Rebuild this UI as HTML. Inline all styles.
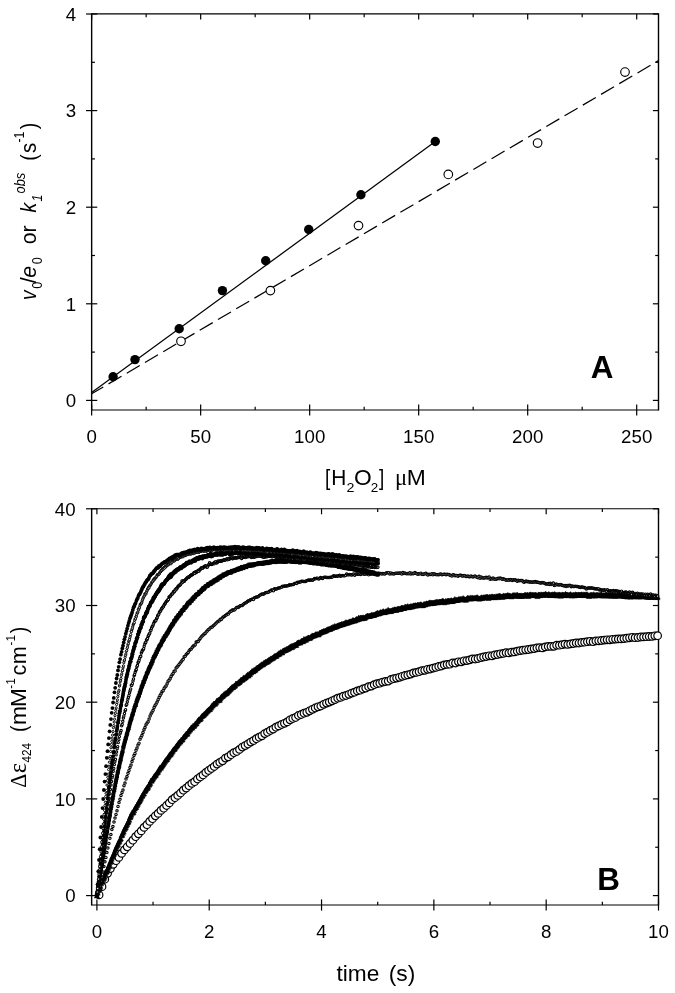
<!DOCTYPE html>
<html lang="en">
<head>
<meta charset="utf-8">
<title>Figure</title>
<style>
html,body{margin:0;padding:0;background:#fff;}
body{width:675px;height:993px;overflow:hidden;}
svg{display:block;}
</style>
</head>
<body>
<svg width="675" height="993" viewBox="0 0 675 993">
<rect x="0" y="0" width="675" height="993" fill="#fff"/>
<g stroke="#000" fill="none" stroke-linecap="butt">
<line x1="91.65" y1="13.35" x2="91.65" y2="410.55" stroke-width="1.4" />
<line x1="658.50" y1="13.35" x2="658.50" y2="410.55" stroke-width="1.4" />
<line x1="91.65" y1="13.90" x2="658.50" y2="13.90" stroke-width="1.15" />
<line x1="91.65" y1="410.00" x2="658.50" y2="410.00" stroke-width="1.15" />
<line x1="86.05" y1="400.40" x2="97.25" y2="400.40" stroke-width="1.2" />
<line x1="652.90" y1="400.40" x2="658.50" y2="400.40" stroke-width="1.2" />
<line x1="86.05" y1="303.80" x2="97.25" y2="303.80" stroke-width="1.2" />
<line x1="652.90" y1="303.80" x2="658.50" y2="303.80" stroke-width="1.2" />
<line x1="86.05" y1="207.20" x2="97.25" y2="207.20" stroke-width="1.2" />
<line x1="652.90" y1="207.20" x2="658.50" y2="207.20" stroke-width="1.2" />
<line x1="86.05" y1="110.60" x2="97.25" y2="110.60" stroke-width="1.2" />
<line x1="652.90" y1="110.60" x2="658.50" y2="110.60" stroke-width="1.2" />
<line x1="86.05" y1="14.00" x2="97.25" y2="14.00" stroke-width="1.2" />
<line x1="652.90" y1="14.00" x2="658.50" y2="14.00" stroke-width="1.2" />
<line x1="91.65" y1="352.10" x2="94.95" y2="352.10" stroke-width="1.2" />
<line x1="655.20" y1="352.10" x2="658.50" y2="352.10" stroke-width="1.2" />
<line x1="91.65" y1="255.50" x2="94.95" y2="255.50" stroke-width="1.2" />
<line x1="655.20" y1="255.50" x2="658.50" y2="255.50" stroke-width="1.2" />
<line x1="91.65" y1="158.90" x2="94.95" y2="158.90" stroke-width="1.2" />
<line x1="655.20" y1="158.90" x2="658.50" y2="158.90" stroke-width="1.2" />
<line x1="91.65" y1="62.30" x2="94.95" y2="62.30" stroke-width="1.2" />
<line x1="655.20" y1="62.30" x2="658.50" y2="62.30" stroke-width="1.2" />
<line x1="91.65" y1="404.40" x2="91.65" y2="415.60" stroke-width="1.2" />
<line x1="91.65" y1="13.90" x2="91.65" y2="19.50" stroke-width="1.2" />
<line x1="200.66" y1="404.40" x2="200.66" y2="415.60" stroke-width="1.2" />
<line x1="200.66" y1="13.90" x2="200.66" y2="19.50" stroke-width="1.2" />
<line x1="309.67" y1="404.40" x2="309.67" y2="415.60" stroke-width="1.2" />
<line x1="309.67" y1="13.90" x2="309.67" y2="19.50" stroke-width="1.2" />
<line x1="418.68" y1="404.40" x2="418.68" y2="415.60" stroke-width="1.2" />
<line x1="418.68" y1="13.90" x2="418.68" y2="19.50" stroke-width="1.2" />
<line x1="527.69" y1="404.40" x2="527.69" y2="415.60" stroke-width="1.2" />
<line x1="527.69" y1="13.90" x2="527.69" y2="19.50" stroke-width="1.2" />
<line x1="636.70" y1="404.40" x2="636.70" y2="415.60" stroke-width="1.2" />
<line x1="636.70" y1="13.90" x2="636.70" y2="19.50" stroke-width="1.2" />
<line x1="146.15" y1="406.70" x2="146.15" y2="410.00" stroke-width="1.2" />
<line x1="146.15" y1="13.90" x2="146.15" y2="17.20" stroke-width="1.2" />
<line x1="255.16" y1="406.70" x2="255.16" y2="410.00" stroke-width="1.2" />
<line x1="255.16" y1="13.90" x2="255.16" y2="17.20" stroke-width="1.2" />
<line x1="364.17" y1="406.70" x2="364.17" y2="410.00" stroke-width="1.2" />
<line x1="364.17" y1="13.90" x2="364.17" y2="17.20" stroke-width="1.2" />
<line x1="473.18" y1="406.70" x2="473.18" y2="410.00" stroke-width="1.2" />
<line x1="473.18" y1="13.90" x2="473.18" y2="17.20" stroke-width="1.2" />
<line x1="582.19" y1="406.70" x2="582.19" y2="410.00" stroke-width="1.2" />
<line x1="582.19" y1="13.90" x2="582.19" y2="17.20" stroke-width="1.2" />
<line x1="91.65" y1="508.15" x2="91.65" y2="905.55" stroke-width="1.4" />
<line x1="658.50" y1="508.15" x2="658.50" y2="905.55" stroke-width="1.4" />
<line x1="91.65" y1="508.70" x2="658.50" y2="508.70" stroke-width="1.15" />
<line x1="91.65" y1="905.00" x2="658.50" y2="905.00" stroke-width="1.15" />
<line x1="86.05" y1="895.60" x2="97.25" y2="895.60" stroke-width="1.2" />
<line x1="652.90" y1="895.60" x2="658.50" y2="895.60" stroke-width="1.2" />
<line x1="86.05" y1="798.90" x2="97.25" y2="798.90" stroke-width="1.2" />
<line x1="652.90" y1="798.90" x2="658.50" y2="798.90" stroke-width="1.2" />
<line x1="86.05" y1="702.20" x2="97.25" y2="702.20" stroke-width="1.2" />
<line x1="652.90" y1="702.20" x2="658.50" y2="702.20" stroke-width="1.2" />
<line x1="86.05" y1="605.50" x2="97.25" y2="605.50" stroke-width="1.2" />
<line x1="652.90" y1="605.50" x2="658.50" y2="605.50" stroke-width="1.2" />
<line x1="86.05" y1="508.80" x2="97.25" y2="508.80" stroke-width="1.2" />
<line x1="652.90" y1="508.80" x2="658.50" y2="508.80" stroke-width="1.2" />
<line x1="91.65" y1="847.25" x2="94.95" y2="847.25" stroke-width="1.2" />
<line x1="655.20" y1="847.25" x2="658.50" y2="847.25" stroke-width="1.2" />
<line x1="91.65" y1="750.55" x2="94.95" y2="750.55" stroke-width="1.2" />
<line x1="655.20" y1="750.55" x2="658.50" y2="750.55" stroke-width="1.2" />
<line x1="91.65" y1="653.85" x2="94.95" y2="653.85" stroke-width="1.2" />
<line x1="655.20" y1="653.85" x2="658.50" y2="653.85" stroke-width="1.2" />
<line x1="91.65" y1="557.15" x2="94.95" y2="557.15" stroke-width="1.2" />
<line x1="655.20" y1="557.15" x2="658.50" y2="557.15" stroke-width="1.2" />
<line x1="96.90" y1="899.40" x2="96.90" y2="910.60" stroke-width="1.2" />
<line x1="96.90" y1="508.70" x2="96.90" y2="514.30" stroke-width="1.2" />
<line x1="209.22" y1="899.40" x2="209.22" y2="910.60" stroke-width="1.2" />
<line x1="209.22" y1="508.70" x2="209.22" y2="514.30" stroke-width="1.2" />
<line x1="321.54" y1="899.40" x2="321.54" y2="910.60" stroke-width="1.2" />
<line x1="321.54" y1="508.70" x2="321.54" y2="514.30" stroke-width="1.2" />
<line x1="433.86" y1="899.40" x2="433.86" y2="910.60" stroke-width="1.2" />
<line x1="433.86" y1="508.70" x2="433.86" y2="514.30" stroke-width="1.2" />
<line x1="546.18" y1="899.40" x2="546.18" y2="910.60" stroke-width="1.2" />
<line x1="546.18" y1="508.70" x2="546.18" y2="514.30" stroke-width="1.2" />
<line x1="658.50" y1="899.40" x2="658.50" y2="910.60" stroke-width="1.2" />
<line x1="658.50" y1="508.70" x2="658.50" y2="514.30" stroke-width="1.2" />
<line x1="153.06" y1="901.70" x2="153.06" y2="905.00" stroke-width="1.2" />
<line x1="153.06" y1="508.70" x2="153.06" y2="512.00" stroke-width="1.2" />
<line x1="265.38" y1="901.70" x2="265.38" y2="905.00" stroke-width="1.2" />
<line x1="265.38" y1="508.70" x2="265.38" y2="512.00" stroke-width="1.2" />
<line x1="377.70" y1="901.70" x2="377.70" y2="905.00" stroke-width="1.2" />
<line x1="377.70" y1="508.70" x2="377.70" y2="512.00" stroke-width="1.2" />
<line x1="490.02" y1="901.70" x2="490.02" y2="905.00" stroke-width="1.2" />
<line x1="490.02" y1="508.70" x2="490.02" y2="512.00" stroke-width="1.2" />
<line x1="602.34" y1="901.70" x2="602.34" y2="905.00" stroke-width="1.2" />
<line x1="602.34" y1="508.70" x2="602.34" y2="512.00" stroke-width="1.2" />
</g>
<g stroke="#000" fill="none">
<line x1="91.65" y1="392.50" x2="435.30" y2="141.60" stroke-width="1.25" />
<line x1="91.65" y1="393.80" x2="658.50" y2="60.60" stroke-width="1.25" stroke-dasharray="15.07 6.09" stroke-dashoffset="1.6"/>
</g>
<g fill="#000" stroke="none">
<circle cx="113.1" cy="376.8" r="4.7"/>
<circle cx="135.0" cy="359.6" r="4.7"/>
<circle cx="179.2" cy="328.8" r="4.7"/>
<circle cx="222.4" cy="290.6" r="4.7"/>
<circle cx="265.7" cy="260.7" r="4.7"/>
<circle cx="308.7" cy="229.5" r="4.7"/>
<circle cx="360.9" cy="194.8" r="4.7"/>
<circle cx="435.3" cy="141.5" r="4.7"/>
</g>
<g fill="#fff" stroke="#000" stroke-width="1.15">
<circle cx="181.0" cy="341.3" r="4.3"/>
<circle cx="270.4" cy="290.6" r="4.3"/>
<circle cx="358.5" cy="225.6" r="4.3"/>
<circle cx="448.3" cy="174.4" r="4.3"/>
<circle cx="537.6" cy="143.0" r="4.3"/>
<circle cx="625.0" cy="72.1" r="4.3"/>
</g>
<defs>
<marker id="mL" markerWidth="10" markerHeight="10" refX="5" refY="5" markerUnits="userSpaceOnUse" overflow="visible"><circle cx="5" cy="5" r="3.8" fill="#fff" stroke="#000" stroke-width="1.2"/></marker>
<marker id="mO2" markerWidth="10" markerHeight="10" refX="5" refY="5" markerUnits="userSpaceOnUse" overflow="visible"><circle cx="5" cy="5" r="1.1" fill="#fff" stroke="#000" stroke-width="1.0"/></marker>
<marker id="mO4" markerWidth="10" markerHeight="10" refX="5" refY="5" markerUnits="userSpaceOnUse" overflow="visible"><circle cx="5" cy="5" r="1.15" fill="#fff" stroke="#000" stroke-width="1.1"/></marker>
<marker id="mO6" markerWidth="10" markerHeight="10" refX="5" refY="5" markerUnits="userSpaceOnUse" overflow="visible"><circle cx="5" cy="5" r="1.2" fill="#fff" stroke="#000" stroke-width="1.15"/></marker>
<marker id="mF" markerWidth="10" markerHeight="10" refX="5" refY="5" markerUnits="userSpaceOnUse" overflow="visible"><circle cx="5" cy="5" r="1.9" fill="#000"/></marker>
<marker id="mF3" markerWidth="10" markerHeight="10" refX="5" refY="5" markerUnits="userSpaceOnUse" overflow="visible"><circle cx="5" cy="5" r="1.9" fill="#000"/></marker>
<marker id="mT" markerWidth="10" markerHeight="10" refX="5" refY="5" markerUnits="userSpaceOnUse" overflow="visible"><path d="M5 2.3 L7.6 7.3 L2.4 7.3 Z" fill="#000" stroke="#000" stroke-width="0.5" stroke-linejoin="round"/></marker>
<marker id="mS" markerWidth="10" markerHeight="10" refX="5" refY="5" markerUnits="userSpaceOnUse" overflow="visible"><rect x="3.1" y="3.1" width="3.8" height="3.8" fill="#000"/></marker>
</defs>
<polyline fill="none" stroke="none" points="99.1,894.9 102.0,886.7 104.8,879.2 107.6,873.3 110.4,868.6 113.2,864.3 116.0,860.7 118.8,857.4 121.6,853.4 124.4,849.9 127.2,846.8 130.0,843.5 132.8,840.2 135.6,836.7 138.4,833.8 141.2,830.9 144.0,827.4 146.9,824.7 149.7,821.4 152.5,818.7 155.3,815.8 158.1,813.4 160.9,810.4 163.7,808.2 166.5,805.5 169.3,802.9 172.1,799.7 174.9,797.7 177.7,795.4 180.5,793.0 183.3,790.2 186.1,788.1 188.9,785.7 191.8,783.4 194.6,781.7 197.4,779.0 200.2,777.0 203.0,775.0 205.8,772.5 208.6,770.5 211.4,768.5 214.2,766.5 217.0,764.1 219.8,762.4 222.6,760.8 225.4,758.1 228.2,756.8 231.0,754.7 233.8,752.7 236.7,751.5 239.5,749.4 242.3,747.1 245.1,745.6 247.9,744.0 250.7,742.1 253.5,740.6 256.3,738.7 259.1,737.2 261.9,735.8 264.7,733.6 267.5,732.2 270.3,730.5 273.1,729.1 275.9,727.2 278.7,725.9 281.6,724.5 284.4,723.3 287.2,721.9 290.0,719.8 292.8,718.5 295.6,717.5 298.4,715.5 301.2,714.5 304.0,713.2 306.8,712.3 309.6,710.8 312.4,709.3 315.2,708.0 318.0,706.8 320.8,706.0 323.7,704.3 326.5,703.1 329.3,702.1 332.1,700.8 334.9,699.6 337.7,698.2 340.5,697.4 343.3,696.2 346.1,695.5 348.9,694.3 351.7,693.1 354.5,692.2 357.3,690.9 360.1,690.2 362.9,689.0 365.7,688.1 368.6,686.7 371.4,686.1 374.2,684.7 377.0,683.7 379.8,683.2 382.6,682.1 385.4,681.5 388.2,681.1 391.0,679.5 393.8,678.7 396.6,678.1 399.4,677.3 402.2,676.3 405.0,675.5 407.8,674.9 410.6,674.1 413.5,672.9 416.3,672.4 419.1,671.7 421.9,670.7 424.7,670.3 427.5,669.3 430.3,669.0 433.1,668.1 435.9,667.4 438.7,666.5 441.5,666.0 444.3,664.9 447.1,664.4 449.9,664.2 452.7,662.9 455.5,663.0 458.4,661.8 461.2,661.8 464.0,660.8 466.8,660.6 469.6,659.9 472.4,658.9 475.2,659.0 478.0,658.5 480.8,657.6 483.6,657.0 486.4,656.5 489.2,655.8 492.0,655.8 494.8,654.9 497.6,654.5 500.4,653.8 503.3,653.4 506.1,652.7 508.9,652.9 511.7,652.1 514.5,651.9 517.3,651.2 520.1,650.6 522.9,650.2 525.7,649.8 528.5,649.5 531.3,649.0 534.1,648.6 536.9,647.9 539.7,647.6 542.5,647.9 545.3,646.9 548.2,646.4 551.0,646.4 553.8,646.3 556.6,645.2 559.4,645.2 562.2,644.7 565.0,644.1 567.8,644.4 570.6,643.9 573.4,643.5 576.2,643.0 579.0,643.0 581.8,642.4 584.6,642.2 587.4,641.7 590.2,641.3 593.1,641.7 595.9,640.9 598.7,640.8 601.5,640.5 604.3,640.1 607.1,639.8 609.9,639.8 612.7,639.3 615.5,639.1 618.3,638.9 621.1,638.9 623.9,638.6 626.7,638.2 629.5,637.8 632.3,637.3 635.1,637.7 638.0,637.5 640.8,637.0 643.6,636.9 646.4,636.7 649.2,636.5 652.0,636.4 654.8,635.8 657.6,635.7" marker-start="url(#mL)" marker-mid="url(#mL)" marker-end="url(#mL)"/>
<polyline fill="none" stroke="none" points="96.9,895.6 97.6,892.9 98.3,890.5 99.0,888.9 99.7,887.8 100.4,886.1 101.1,883.5 101.8,881.9 102.5,881.5 103.2,879.2 103.9,878.1 104.6,876.9 105.3,874.1 106.0,872.3 106.7,871.6 107.4,869.8 108.1,868.0 108.8,866.4 109.5,864.3 110.2,862.2 110.9,861.1 111.6,859.0 112.3,856.9 113.0,856.2 113.7,854.2 114.4,852.7 115.1,850.4 115.8,848.8 116.5,847.0 117.3,845.4 118.0,844.2 118.7,842.2 119.4,841.1 120.1,839.5 120.8,838.6 121.5,835.5 122.2,835.0 122.9,833.0 123.6,831.5 124.3,829.4 125.0,828.3 125.7,827.4 126.4,825.6 127.1,824.2 127.8,822.6 128.5,821.8 129.2,819.9 129.9,817.5 130.6,816.8 131.3,814.9 132.0,812.9 132.7,812.8 133.4,812.3 134.1,810.5 134.8,808.6 135.5,807.4 136.2,807.1 136.9,805.4 137.6,804.1 138.3,802.8 139.0,801.6 139.7,800.7 140.4,799.3 141.1,798.0 141.8,796.2 142.5,795.7 143.2,794.0 143.9,793.6 144.6,791.4 145.3,790.8 146.0,789.7 146.7,788.0 147.4,788.2 148.1,787.0 148.8,785.0 149.5,784.4 150.2,783.1 150.9,780.7 151.6,780.9 152.3,779.7 153.0,778.7 153.7,777.1 154.4,776.4 155.1,775.4 155.8,775.0 156.5,773.5 157.3,772.4 158.0,772.0 158.7,770.1 159.4,769.1 160.1,767.5 160.8,768.0 161.5,766.7 162.2,765.7 162.9,764.6 163.6,763.4 164.3,762.5 165.0,761.3 165.7,760.3 166.4,759.5 167.1,759.2 167.8,757.8 168.5,756.6 169.2,755.4 169.9,754.5 170.6,754.5 171.3,753.1 172.0,752.0 172.7,750.9 173.4,749.6 174.1,749.2 174.8,748.7 175.5,747.3 176.2,746.4 176.9,745.6 177.6,744.8 178.3,743.2 179.0,742.9 179.7,741.8 180.4,741.7 181.1,740.1 181.8,739.8 182.5,739.4 183.2,737.7 183.9,736.7 184.6,736.3 185.3,735.3 186.0,734.1 186.7,733.9 187.4,733.8 188.1,731.9 188.8,731.1 189.5,729.9 190.2,729.7 190.9,728.2 191.6,727.5 192.3,727.8 193.0,726.0 193.7,726.1 194.4,725.5 195.1,724.1 195.8,723.5 196.5,723.4 197.3,721.6 198.0,720.7 198.7,719.6 199.4,719.4 200.1,719.3 200.8,718.3 201.5,716.7 202.2,716.0 202.9,715.5 203.6,715.1 204.3,714.1 205.0,713.6 205.7,712.9 206.4,711.9 207.1,711.3 207.8,710.7 208.5,709.8 209.2,709.4 209.9,709.3 210.6,708.0 211.3,707.1 212.0,705.6 212.7,705.8 213.4,704.1 214.1,703.7 214.8,704.0 215.5,703.3 216.2,702.2 216.9,700.8 217.6,700.8 218.3,700.0 219.0,699.9 219.7,700.0 220.4,698.4 221.1,697.3 221.8,696.5 222.5,696.3 223.2,695.6 223.9,694.5 224.6,694.5 225.3,693.3 226.0,693.7 226.7,693.0 227.4,692.4 228.1,691.1 228.8,690.9 229.5,690.0 230.2,689.3 230.9,688.7 231.6,687.6 232.3,687.0 233.0,687.4 233.7,686.4 234.4,685.9 235.1,685.7 235.8,683.9 236.5,683.7 237.3,683.6 238.0,683.1 238.7,682.2 239.4,682.2 240.1,681.3 240.8,680.1 241.5,679.7 242.2,679.9 242.9,679.2 243.6,677.6 244.3,678.5 245.0,677.6 245.7,677.4 246.4,676.1 247.1,675.6 247.8,674.6 248.5,675.8 249.2,674.0 249.9,674.3 250.6,672.7 251.3,672.6 252.0,671.2 252.7,671.3 253.4,671.4 254.1,669.9 254.8,670.4 255.5,669.6 256.2,668.5 256.9,668.2 257.6,667.7 258.3,667.4 259.0,666.7 259.7,666.1 260.4,665.8 261.1,665.0 261.8,664.4 262.5,664.5 263.2,664.4 263.9,662.9 264.6,663.1 265.3,662.3 266.0,661.7 266.7,662.1 267.4,661.0 268.1,661.4 268.8,660.0 269.5,660.0 270.2,659.3 270.9,658.6 271.6,658.8 272.3,658.0 273.0,657.9 273.7,657.2 274.4,656.2 275.1,656.3 275.8,655.9 276.5,655.9 277.3,654.6 278.0,654.6 278.7,653.4 279.4,654.0 280.1,652.8 280.8,652.1 281.5,652.5 282.2,652.6 282.9,651.0 283.6,650.8 284.3,650.5 285.0,649.9 285.7,650.2 286.4,649.3 287.1,648.9 287.8,649.1 288.5,648.1 289.2,648.3 289.9,647.3 290.6,646.8 291.3,646.1 292.0,647.4 292.7,646.0 293.4,645.9 294.1,645.4 294.8,645.1 295.5,644.7 296.2,645.2 296.9,643.5 297.6,642.9 298.3,642.8 299.0,642.3 299.7,642.8 300.4,642.5 301.1,641.4 301.8,640.8 302.5,640.9 303.2,641.4 303.9,639.1 304.6,640.3 305.3,639.2 306.0,639.9 306.7,638.6 307.4,638.6 308.1,637.7 308.8,637.6 309.5,638.3 310.2,637.8 310.9,636.9 311.6,636.4 312.3,635.6 313.0,635.9 313.7,635.8 314.4,635.4 315.1,635.1 315.8,634.3 316.5,634.5 317.3,634.2 318.0,634.5 318.7,634.5 319.4,633.2 320.1,632.7 320.8,632.7 321.5,632.1 322.2,631.8 322.9,631.8 323.6,631.1 324.3,631.5 325.0,630.9 325.7,630.8 326.4,630.3 327.1,629.8 327.8,629.4 328.5,629.4 329.2,629.0 329.9,629.1 330.6,628.7 331.3,627.8 332.0,628.2 332.7,627.3 333.4,627.3 334.1,627.2 334.8,626.1 335.5,626.9 336.2,626.6 336.9,626.2 337.6,625.8 338.3,625.6 339.0,625.1 339.7,625.1 340.4,624.8 341.1,624.8 341.8,624.0 342.5,624.4 343.2,624.1 343.9,623.7 344.6,623.3 345.3,623.5 346.0,622.3 346.7,623.0 347.4,622.7 348.1,622.5 348.8,622.3 349.5,621.6 350.2,621.5 350.9,621.7 351.6,621.4 352.3,621.0 353.0,620.0 353.7,620.7 354.4,620.8 355.1,620.5 355.8,619.9 356.5,618.9 357.3,619.8 358.0,619.1 358.7,617.8 359.4,618.9 360.1,617.9 360.8,617.7 361.5,617.8 362.2,618.5 362.9,617.5 363.6,617.6 364.3,618.1 365.0,617.8 365.7,616.9 366.4,616.6 367.1,615.9 367.8,616.0 368.5,616.3 369.2,616.1 369.9,615.8 370.6,616.0 371.3,615.0 372.0,615.1 372.7,615.3 373.4,615.0 374.1,615.1 374.8,614.6 375.5,614.1 376.2,614.2 376.9,613.4 377.6,612.9 378.3,613.8 379.0,613.3 379.7,613.3 380.4,612.2 381.1,612.6 381.8,612.4 382.5,612.1 383.2,611.3 383.9,612.0 384.6,612.4 385.3,612.0 386.0,611.3 386.7,611.4 387.4,611.6 388.1,609.9 388.8,610.9 389.5,611.0 390.2,611.0 390.9,611.3 391.6,610.8 392.3,610.3 393.0,610.2 393.7,610.2 394.4,609.5 395.1,609.5 395.8,609.8 396.5,610.1 397.2,609.0 398.0,609.0 398.7,608.9 399.4,609.3 400.1,608.5 400.8,609.1 401.5,607.8 402.2,608.0 402.9,607.9 403.6,608.2 404.3,608.2 405.0,606.9 405.7,607.0 406.4,607.4 407.1,606.9 407.8,606.3 408.5,607.4 409.2,607.0 409.9,606.9 410.6,606.3 411.3,606.8 412.0,606.1 412.7,606.6 413.4,605.6 414.1,605.5 414.8,605.8 415.5,605.3 416.2,605.8 416.9,605.5 417.6,604.9 418.3,605.2 419.0,604.9 419.7,605.3 420.4,604.5 421.1,604.5 421.8,605.1 422.5,605.5 423.2,605.2 423.9,604.3 424.6,604.2 425.3,604.7 426.0,603.8 426.7,603.4 427.4,603.7 428.1,603.8 428.8,603.1 429.5,602.6 430.2,602.6 430.9,603.5 431.6,602.7 432.3,602.9 433.0,603.0 433.7,603.0 434.4,602.5 435.1,602.8 435.8,602.1 436.5,602.2 437.2,601.8 438.0,602.7 438.7,602.1 439.4,601.7 440.1,601.7 440.8,601.7 441.5,602.0 442.2,600.9 442.9,601.1 443.6,601.3 444.3,602.5 445.0,601.7 445.7,601.1 446.4,601.4 447.1,601.9 447.8,600.8 448.5,600.7 449.2,601.3 449.9,600.9 450.6,600.9 451.3,600.3 452.0,601.3 452.7,601.1 453.4,600.5 454.1,600.5 454.8,599.2 455.5,600.3 456.2,599.9 456.9,600.1 457.6,600.1 458.3,599.6 459.0,598.9 459.7,599.8 460.4,599.2 461.1,599.3 461.8,599.1 462.5,599.2 463.2,598.2 463.9,599.7 464.6,599.2 465.3,599.6 466.0,599.9 466.7,598.9 467.4,598.0 468.1,598.4 468.8,598.2 469.5,598.4 470.2,598.6 470.9,597.6 471.6,598.6 472.3,597.7 473.0,598.5 473.7,598.3 474.4,598.1 475.1,598.2 475.8,597.9 476.5,597.8 477.2,597.3 478.0,597.9 478.7,598.7 479.4,598.7 480.1,598.4 480.8,598.1 481.5,597.4 482.2,598.3 482.9,597.6 483.6,597.5 484.3,597.4 485.0,597.5 485.7,597.2 486.4,597.3 487.1,596.8 487.8,597.1 488.5,598.2 489.2,597.1 489.9,597.0 490.6,597.3 491.3,597.3 492.0,596.5 492.7,596.8 493.4,597.3 494.1,597.0 494.8,596.8 495.5,597.4 496.2,596.4 496.9,596.7 497.6,596.4 498.3,597.3 499.0,595.7 499.7,596.2 500.4,596.2 501.1,596.7 501.8,596.7 502.5,597.0 503.2,595.6 503.9,596.6 504.6,596.1 505.3,595.9 506.0,596.4 506.7,595.7 507.4,595.2 508.1,595.9 508.8,595.4 509.5,595.7 510.2,596.2 510.9,596.1 511.6,596.6 512.3,595.8 513.0,595.2 513.7,595.5 514.4,595.4 515.1,595.2 515.8,595.9 516.5,595.4 517.2,594.8 518.0,596.0 518.7,595.6 519.4,595.8 520.1,595.6 520.8,595.9 521.5,595.6 522.2,596.1 522.9,595.7 523.6,595.7 524.3,595.6 525.0,594.8 525.7,595.3 526.4,595.3 527.1,595.5 527.8,594.7 528.5,596.1 529.2,595.4 529.9,594.7 530.6,594.5 531.3,595.1 532.0,595.2 532.7,594.9 533.4,595.2 534.1,594.9 534.8,595.4 535.5,594.8 536.2,595.1 536.9,595.6 537.6,596.3 538.3,594.6 539.0,594.9 539.7,594.7 540.4,595.4 541.1,594.5 541.8,594.8 542.5,595.0 543.2,594.6 543.9,594.6 544.6,594.8 545.3,594.0 546.0,594.3 546.7,594.8 547.4,595.0 548.1,594.8 548.8,594.1 549.5,594.7 550.2,595.3 550.9,595.1 551.6,594.8 552.3,594.5 553.0,595.2 553.7,594.6 554.4,594.3 555.1,594.5 555.8,595.5 556.5,594.9 557.2,595.4 558.0,594.6 558.7,595.3 559.4,594.6 560.1,594.8 560.8,595.9 561.5,595.2 562.2,594.6 562.9,594.8 563.6,595.0 564.3,595.4 565.0,594.6 565.7,594.0 566.4,594.7 567.1,594.8 567.8,594.9 568.5,595.4 569.2,594.9 569.9,595.2 570.6,594.3 571.3,595.2 572.0,595.8 572.7,595.2 573.4,594.9 574.1,594.9 574.8,595.6 575.5,594.4 576.2,594.8 576.9,595.0 577.6,595.2 578.3,594.6 579.0,595.0 579.7,594.7 580.4,594.9 581.1,594.8 581.8,594.4 582.5,594.9 583.2,595.3 583.9,594.5 584.6,594.8 585.3,595.2 586.0,594.4 586.7,595.0 587.4,594.5 588.1,595.4 588.8,596.0 589.5,595.9 590.2,594.9 590.9,595.3 591.6,595.0 592.3,595.0 593.0,595.7 593.7,594.4 594.4,595.5 595.1,595.0 595.8,595.7 596.5,595.1 597.2,594.8 598.0,595.2 598.7,595.4 599.4,595.1 600.1,595.3 600.8,594.9 601.5,594.2 602.2,595.6 602.9,595.5 603.6,595.3 604.3,595.2 605.0,595.7 605.7,595.0 606.4,594.9 607.1,595.2 607.8,595.8 608.5,594.7 609.2,595.8 609.9,595.0 610.6,594.8 611.3,595.9 612.0,595.3 612.7,594.8 613.4,595.2 614.1,595.8 614.8,596.0 615.5,595.3 616.2,595.7 616.9,595.8 617.6,595.2 618.3,595.7 619.0,595.5 619.7,595.3 620.4,595.4 621.1,595.6 621.8,595.6 622.5,595.4 623.2,595.5 623.9,596.2 624.6,595.8 625.3,596.1 626.0,596.3 626.7,596.0 627.4,596.8 628.1,595.4 628.8,596.2 629.5,595.7 630.2,596.7 630.9,596.7 631.6,595.0 632.3,595.5 633.0,596.3 633.7,596.4 634.4,596.4 635.1,596.0 635.8,596.3 636.5,596.4 637.2,596.1 638.0,596.6 638.7,595.1 639.4,596.5 640.1,595.7 640.8,596.7 641.5,596.2 642.2,595.9 642.9,596.5 643.6,595.9 644.3,596.0 645.0,595.7 645.7,596.4 646.4,596.7 647.1,596.9 647.8,596.4 648.5,597.0 649.2,596.6 649.9,596.5 650.6,596.9 651.3,597.1 652.0,596.5 652.7,596.6 653.4,596.6 654.1,596.8 654.8,596.4 655.5,597.3 656.2,596.7 656.9,597.1 657.6,596.9" marker-start="url(#mT)" marker-mid="url(#mT)" marker-end="url(#mT)"/>
<polyline fill="none" stroke="none" points="96.9,895.6 97.9,893.1 98.9,889.2 99.9,886.1 100.9,881.1 101.9,877.0 102.9,871.9 103.9,866.5 104.9,861.8 105.9,857.4 106.9,852.6 107.9,848.0 108.9,843.4 109.9,838.3 110.9,834.6 111.9,829.6 112.9,826.5 114.0,822.0 115.0,818.1 116.0,814.4 117.0,810.8 118.0,806.4 119.0,802.6 120.0,799.3 121.0,795.4 122.0,792.4 123.0,790.1 124.0,785.7 125.0,783.1 126.0,779.1 127.0,776.6 128.0,773.3 129.0,770.4 130.0,767.6 131.0,765.1 132.0,761.6 133.0,758.7 134.0,755.5 135.0,753.4 136.0,750.3 137.0,748.1 138.0,745.1 139.0,743.2 140.0,739.2 141.0,737.3 142.0,735.3 143.0,732.4 144.0,729.8 145.0,727.6 146.0,724.8 147.1,723.1 148.1,721.8 149.1,719.0 150.1,715.9 151.1,713.8 152.1,711.9 153.1,710.3 154.1,707.5 155.1,705.5 156.1,704.1 157.1,702.1 158.1,699.7 159.1,697.5 160.1,695.4 161.1,693.8 162.1,691.4 163.1,690.7 164.1,688.4 165.1,687.0 166.1,685.9 167.1,683.8 168.1,681.2 169.1,680.3 170.1,678.8 171.1,676.4 172.1,674.7 173.1,673.5 174.1,671.3 175.1,671.0 176.1,667.9 177.1,667.0 178.1,665.8 179.1,664.4 180.2,663.1 181.2,661.7 182.2,660.2 183.2,659.3 184.2,656.7 185.2,656.2 186.2,654.6 187.2,653.6 188.2,652.4 189.2,650.7 190.2,649.5 191.2,648.9 192.2,647.5 193.2,645.9 194.2,645.8 195.2,644.8 196.2,642.1 197.2,641.7 198.2,641.5 199.2,639.7 200.2,638.4 201.2,637.1 202.2,636.0 203.2,635.1 204.2,633.9 205.2,633.4 206.2,632.0 207.2,631.0 208.2,629.7 209.2,629.2 210.2,628.0 211.2,627.3 212.2,626.9 213.3,625.7 214.3,624.9 215.3,624.0 216.3,623.0 217.3,622.1 218.3,621.2 219.3,620.8 220.3,619.2 221.3,619.4 222.3,618.1 223.3,617.0 224.3,616.4 225.3,615.5 226.3,615.1 227.3,614.0 228.3,614.1 229.3,612.6 230.3,611.3 231.3,611.2 232.3,610.0 233.3,610.1 234.3,609.9 235.3,609.1 236.3,607.7 237.3,607.3 238.3,607.6 239.3,606.5 240.3,605.7 241.3,605.5 242.3,605.5 243.3,604.5 244.3,603.4 245.4,603.0 246.4,602.5 247.4,601.5 248.4,600.8 249.4,600.7 250.4,599.7 251.4,599.6 252.4,599.1 253.4,599.5 254.4,597.8 255.4,597.6 256.4,597.1 257.4,596.9 258.4,596.6 259.4,595.6 260.4,595.0 261.4,594.2 262.4,594.1 263.4,594.2 264.4,593.6 265.4,592.8 266.4,592.6 267.4,592.4 268.4,592.2 269.4,591.3 270.4,591.1 271.4,590.1 272.4,590.0 273.4,590.7 274.4,588.8 275.4,589.2 276.4,589.1 277.4,588.5 278.5,588.0 279.5,587.9 280.5,587.6 281.5,587.3 282.5,586.2 283.5,586.6 284.5,586.0 285.5,585.9 286.5,585.9 287.5,585.7 288.5,585.5 289.5,584.7 290.5,585.0 291.5,584.8 292.5,584.5 293.5,584.4 294.5,583.5 295.5,583.2 296.5,583.4 297.5,582.3 298.5,582.6 299.5,582.1 300.5,581.9 301.5,581.2 302.5,581.3 303.5,581.4 304.5,581.5 305.5,581.4 306.5,580.7 307.5,580.5 308.5,580.0 309.5,580.3 310.5,579.9 311.6,580.0 312.6,580.3 313.6,579.4 314.6,578.6 315.6,578.7 316.6,578.3 317.6,578.2 318.6,579.0 319.6,578.4 320.6,577.6 321.6,578.3 322.6,578.4 323.6,577.6 324.6,577.3 325.6,577.3 326.6,577.4 327.6,577.4 328.6,577.5 329.6,577.4 330.6,577.2 331.6,577.2 332.6,576.8 333.6,575.8 334.6,576.2 335.6,576.3 336.6,575.9 337.6,576.3 338.6,575.7 339.6,575.3 340.6,576.2 341.6,575.8 342.6,575.5 343.6,575.7 344.7,575.7 345.7,575.3 346.7,574.1 347.7,574.7 348.7,574.7 349.7,574.4 350.7,574.8 351.7,575.1 352.7,574.4 353.7,574.0 354.7,575.2 355.7,574.2 356.7,573.8 357.7,574.3 358.7,574.3 359.7,573.8 360.7,574.4 361.7,573.8 362.7,573.6 363.7,574.0 364.7,574.2 365.7,573.6 366.7,573.9 367.7,573.7 368.7,574.8 369.7,573.4 370.7,574.2 371.7,573.6 372.7,573.5 373.7,573.8 374.7,573.8 375.7,574.0 376.7,573.6 377.8,573.2 378.8,573.2 379.8,573.6 380.8,573.6 381.8,573.9 382.8,573.5 383.8,573.7 384.8,573.9 385.8,573.3 386.8,572.7 387.8,572.8 388.8,572.7 389.8,573.9 390.8,572.9 391.8,573.7 392.8,573.5 393.8,573.9 394.8,573.6 395.8,573.2 396.8,573.2 397.8,573.3 398.8,573.3 399.8,573.1 400.8,573.3 401.8,573.9 402.8,572.6 403.8,573.4 404.8,573.0 405.8,573.4 406.8,573.7 407.8,573.4 408.8,573.7 409.8,572.8 410.9,573.9 411.9,573.2 412.9,573.7 413.9,573.6 414.9,572.5 415.9,573.3 416.9,573.7 417.9,574.3 418.9,573.8 419.9,573.8 420.9,573.2 421.9,574.3 422.9,574.5 423.9,573.9 424.9,573.8 425.9,573.3 426.9,574.3 427.9,575.1 428.9,574.3 429.9,574.6 430.9,574.4 431.9,573.8 432.9,574.8 433.9,573.8 434.9,574.2 435.9,574.5 436.9,574.8 437.9,574.6 438.9,574.7 439.9,574.3 440.9,574.1 441.9,574.7 442.9,574.4 444.0,574.3 445.0,574.3 446.0,574.7 447.0,574.2 448.0,574.5 449.0,574.4 450.0,575.2 451.0,575.4 452.0,576.1 453.0,574.7 454.0,575.1 455.0,575.8 456.0,575.4 457.0,575.4 458.0,576.3 459.0,575.6 460.0,575.3 461.0,575.3 462.0,576.1 463.0,576.1 464.0,575.5 465.0,575.7 466.0,576.4 467.0,576.5 468.0,576.1 469.0,576.7 470.0,576.7 471.0,575.9 472.0,576.5 473.0,576.9 474.0,576.6 475.0,576.0 476.0,576.8 477.1,577.3 478.1,577.7 479.1,576.3 480.1,578.3 481.1,576.9 482.1,577.8 483.1,578.0 484.1,578.0 485.1,577.7 486.1,577.3 487.1,578.1 488.1,577.6 489.1,577.0 490.1,579.2 491.1,578.5 492.1,579.0 493.1,578.0 494.1,579.0 495.1,579.2 496.1,579.2 497.1,578.7 498.1,578.3 499.1,578.8 500.1,578.1 501.1,578.4 502.1,579.2 503.1,578.8 504.1,579.3 505.1,579.4 506.1,580.3 507.1,580.1 508.1,579.7 509.1,580.3 510.2,579.6 511.2,579.8 512.2,580.4 513.2,579.7 514.2,580.1 515.2,579.8 516.2,580.5 517.2,581.2 518.2,580.3 519.2,580.8 520.2,580.5 521.2,580.5 522.2,580.5 523.2,581.7 524.2,582.2 525.2,581.5 526.2,581.1 527.2,581.8 528.2,581.5 529.2,582.0 530.2,581.9 531.2,582.0 532.2,582.3 533.2,581.9 534.2,582.1 535.2,581.6 536.2,582.3 537.2,582.0 538.2,582.6 539.2,582.4 540.2,582.9 541.2,583.1 542.3,582.5 543.3,582.8 544.3,582.9 545.3,583.7 546.3,584.1 547.3,583.9 548.3,583.5 549.3,584.4 550.3,583.3 551.3,584.6 552.3,583.8 553.3,583.1 554.3,585.4 555.3,585.0 556.3,584.1 557.3,584.7 558.3,584.7 559.3,584.9 560.3,584.4 561.3,584.8 562.3,585.4 563.3,585.4 564.3,585.9 565.3,585.5 566.3,586.5 567.3,585.4 568.3,585.9 569.3,585.2 570.3,585.5 571.3,586.7 572.3,585.9 573.3,586.6 574.3,586.5 575.4,586.2 576.4,586.6 577.4,586.6 578.4,586.7 579.4,587.3 580.4,587.4 581.4,587.0 582.4,587.0 583.4,587.6 584.4,587.5 585.4,588.1 586.4,588.9 587.4,588.3 588.4,588.0 589.4,588.1 590.4,587.9 591.4,588.0 592.4,588.1 593.4,588.4 594.4,588.5 595.4,589.1 596.4,588.8 597.4,589.0 598.4,588.7 599.4,589.9 600.4,589.6 601.4,590.2 602.4,589.9 603.4,590.3 604.4,589.7 605.4,590.2 606.4,591.2 607.4,589.7 608.5,590.8 609.5,591.1 610.5,590.7 611.5,590.9 612.5,591.3 613.5,590.6 614.5,591.2 615.5,590.7 616.5,590.9 617.5,591.1 618.5,591.4 619.5,591.6 620.5,591.9 621.5,591.2 622.5,592.7 623.5,592.5 624.5,592.4 625.5,592.1 626.5,592.3 627.5,592.7 628.5,592.8 629.5,592.0 630.5,593.1 631.5,594.1 632.5,592.3 633.5,593.6 634.5,593.4 635.5,593.4 636.5,594.1 637.5,593.2 638.5,593.8 639.5,594.5 640.5,593.9 641.6,593.9 642.6,594.3 643.6,594.2 644.6,595.1 645.6,594.2 646.6,595.0 647.6,594.3 648.6,595.2 649.6,595.0 650.6,594.1 651.6,595.3 652.6,594.9 653.6,595.3 654.6,596.2 655.6,595.3 656.6,595.4 657.6,596.0" marker-start="url(#mO6)" marker-mid="url(#mO6)" marker-end="url(#mO6)"/>
<polyline fill="none" stroke="none" points="96.9,895.6 97.4,892.7 97.8,889.0 98.3,885.5 98.8,883.1 99.2,881.0 99.7,878.2 100.2,875.0 100.7,872.3 101.1,869.4 101.6,866.3 102.1,864.6 102.5,860.8 103.0,857.3 103.5,854.6 103.9,852.2 104.4,849.1 104.9,845.8 105.3,842.5 105.8,839.8 106.3,836.1 106.8,833.3 107.2,831.3 107.7,827.8 108.2,825.3 108.6,822.8 109.1,819.7 109.6,816.6 110.0,814.8 110.5,811.3 111.0,808.1 111.4,806.0 111.9,803.2 112.4,800.0 112.9,797.8 113.3,795.1 113.8,791.8 114.3,790.1 114.7,787.6 115.2,785.1 115.7,782.2 116.1,780.4 116.6,778.3 117.1,776.0 117.5,773.2 118.0,771.8 118.5,768.7 119.0,767.0 119.4,765.6 119.9,762.6 120.4,760.6 120.8,759.2 121.3,756.5 121.8,754.5 122.2,752.8 122.7,751.2 123.2,747.8 123.6,746.5 124.1,744.5 124.6,742.6 125.1,740.9 125.5,739.1 126.0,737.8 126.5,735.5 126.9,734.2 127.4,732.6 127.9,730.3 128.3,729.0 128.8,728.1 129.3,725.8 129.7,723.7 130.2,722.3 130.7,720.3 131.2,719.3 131.6,718.0 132.1,715.7 132.6,714.4 133.0,713.5 133.5,711.2 134.0,710.0 134.4,708.0 134.9,706.6 135.4,705.3 135.9,705.1 136.3,702.5 136.8,701.1 137.3,699.7 137.7,698.5 138.2,697.5 138.7,695.9 139.1,695.4 139.6,693.2 140.1,692.5 140.5,690.7 141.0,689.5 141.5,687.3 142.0,686.6 142.4,685.4 142.9,684.1 143.4,682.0 143.8,682.2 144.3,680.4 144.8,679.2 145.2,678.1 145.7,676.9 146.2,676.0 146.6,674.1 147.1,673.1 147.6,672.5 148.1,671.3 148.5,670.0 149.0,668.8 149.5,667.6 149.9,666.8 150.4,666.3 150.9,664.2 151.3,664.4 151.8,663.0 152.3,661.4 152.7,660.9 153.2,658.9 153.7,657.7 154.2,656.9 154.6,656.3 155.1,655.4 155.6,654.3 156.0,653.6 156.5,651.7 157.0,651.9 157.4,650.1 157.9,649.5 158.4,648.7 158.8,647.4 159.3,646.4 159.8,645.7 160.3,645.2 160.7,644.6 161.2,643.7 161.7,642.1 162.1,641.4 162.6,640.5 163.1,640.2 163.5,638.3 164.0,638.9 164.5,637.3 164.9,636.3 165.4,636.0 165.9,635.5 166.4,634.4 166.8,633.9 167.3,632.7 167.8,632.5 168.2,631.7 168.7,630.3 169.2,630.2 169.6,628.9 170.1,628.1 170.6,626.9 171.0,626.5 171.5,626.2 172.0,624.6 172.5,624.7 172.9,623.9 173.4,623.2 173.9,621.3 174.3,621.6 174.8,621.2 175.3,619.9 175.7,619.6 176.2,617.9 176.7,618.6 177.1,617.3 177.6,617.4 178.1,615.5 178.6,616.0 179.0,614.9 179.5,614.8 180.0,613.4 180.4,612.9 180.9,613.6 181.4,611.6 181.8,611.0 182.3,610.6 182.8,609.7 183.2,610.1 183.7,609.8 184.2,608.1 184.7,607.1 185.1,607.8 185.6,607.2 186.1,606.5 186.5,606.1 187.0,604.7 187.5,604.5 187.9,603.4 188.4,602.8 188.9,603.4 189.3,602.1 189.8,602.9 190.3,601.4 190.8,600.6 191.2,600.8 191.7,600.7 192.2,599.6 192.6,598.4 193.1,598.6 193.6,598.6 194.0,597.3 194.5,596.7 195.0,597.0 195.4,596.1 195.9,595.1 196.4,595.0 196.9,594.4 197.3,594.4 197.8,593.9 198.3,593.9 198.7,593.3 199.2,591.8 199.7,592.3 200.1,592.1 200.6,591.5 201.1,591.3 201.5,590.2 202.0,589.6 202.5,590.1 203.0,588.8 203.4,587.9 203.9,589.0 204.4,587.8 204.8,587.6 205.3,586.7 205.8,586.4 206.2,586.1 206.7,586.1 207.2,586.0 207.7,584.5 208.1,585.5 208.6,584.3 209.1,584.0 209.5,584.4 210.0,583.8 210.5,582.8 210.9,583.9 211.4,582.4 211.9,582.6 212.3,582.2 212.8,582.5 213.3,581.3 213.8,581.6 214.2,580.5 214.7,581.1 215.2,579.9 215.6,579.8 216.1,580.5 216.6,579.5 217.0,579.1 217.5,579.8 218.0,578.7 218.4,577.9 218.9,578.3 219.4,577.1 219.9,577.9 220.3,577.7 220.8,576.6 221.3,576.3 221.7,576.4 222.2,576.1 222.7,575.4 223.1,575.8 223.6,574.4 224.1,574.9 224.5,574.7 225.0,574.5 225.5,574.5 226.0,573.6 226.4,574.2 226.9,573.6 227.4,573.1 227.8,572.6 228.3,572.5 228.8,572.9 229.2,572.1 229.7,572.4 230.2,572.6 230.6,572.4 231.1,572.4 231.6,571.4 232.1,570.8 232.5,571.6 233.0,571.1 233.5,571.2 233.9,570.5 234.4,570.9 234.9,570.5 235.3,570.3 235.8,570.0 236.3,569.8 236.7,569.6 237.2,569.4 237.7,569.5 238.2,568.7 238.6,569.5 239.1,568.5 239.6,568.9 240.0,568.2 240.5,568.0 241.0,568.9 241.4,567.7 241.9,567.1 242.4,567.2 242.8,567.2 243.3,568.2 243.8,567.2 244.3,567.3 244.7,566.3 245.2,566.8 245.7,566.8 246.1,567.2 246.6,565.9 247.1,566.4 247.5,566.1 248.0,565.4 248.5,565.7 248.9,565.5 249.4,564.5 249.9,565.7 250.4,565.5 250.8,565.0 251.3,564.4 251.8,565.6 252.2,565.0 252.7,565.2 253.2,565.3 253.6,564.3 254.1,564.8 254.6,564.2 255.0,564.2 255.5,564.1 256.0,564.0 256.5,564.4 256.9,563.9 257.4,563.7 257.9,563.6 258.3,563.7 258.8,563.1 259.3,563.2 259.7,563.3 260.2,563.0 260.7,563.1 261.1,562.8 261.6,563.9 262.1,563.6 262.6,563.1 263.0,562.8 263.5,563.8 264.0,562.8 264.4,562.6 264.9,562.7 265.4,562.6 265.8,563.1 266.3,562.4 266.8,563.3 267.2,561.9 267.7,562.5 268.2,561.7 268.7,562.9 269.1,561.9 269.6,562.0 270.1,562.4 270.5,562.5 271.0,561.4 271.5,561.7 271.9,561.2 272.4,561.8 272.9,561.7 273.4,561.5 273.8,561.4 274.3,561.5 274.8,561.3 275.2,561.8 275.7,562.2 276.2,560.6 276.6,561.4 277.1,561.3 277.6,561.6 278.0,561.0 278.5,561.3 279.0,560.9 279.5,561.6 279.9,561.4 280.4,561.2 280.9,561.4 281.3,561.2 281.8,560.6 282.3,561.5 282.7,561.4 283.2,561.1 283.7,561.6 284.1,561.7 284.6,560.7 285.1,560.8 285.6,561.9 286.0,561.8 286.5,560.8 287.0,560.6 287.4,560.9 287.9,560.9 288.4,560.5 288.8,561.2 289.3,560.6 289.8,560.6 290.2,561.6 290.7,560.9 291.2,561.2 291.7,561.5 292.1,561.6 292.6,561.1 293.1,561.3 293.5,560.9 294.0,562.1 294.5,561.6 294.9,560.8 295.4,561.3 295.9,561.6 296.3,561.6 296.8,562.2 297.3,562.0 297.8,561.2 298.2,561.4 298.7,560.9 299.2,561.6 299.6,561.6 300.1,562.7 300.6,561.6 301.0,560.6 301.5,561.3 302.0,561.7 302.4,561.1 302.9,561.3 303.4,561.6 303.9,561.9 304.3,561.7 304.8,561.4 305.3,562.2 305.7,561.7 306.2,561.7 306.7,561.3 307.1,561.7 307.6,562.3 308.1,561.4 308.5,562.1 309.0,562.5 309.5,562.0 310.0,562.4 310.4,561.8 310.9,562.9 311.4,562.9 311.8,562.5 312.3,561.7 312.8,562.1 313.2,563.0 313.7,563.4 314.2,562.8 314.6,563.3 315.1,562.5 315.6,562.7 316.1,562.9 316.5,563.1 317.0,562.3 317.5,563.5 317.9,563.7 318.4,562.6 318.9,562.6 319.3,563.4 319.8,563.0 320.3,562.3 320.7,563.8 321.2,563.6 321.7,563.3 322.2,564.6 322.6,563.7 323.1,563.4 323.6,563.8 324.0,563.4 324.5,563.6 325.0,564.2 325.4,563.8 325.9,563.9 326.4,564.9 326.8,564.6 327.3,564.7 327.8,564.6 328.3,564.7 328.7,565.2 329.2,564.6 329.7,565.5 330.1,564.3 330.6,564.7 331.1,564.2 331.5,564.8 332.0,565.2 332.5,565.7 332.9,564.9 333.4,565.2 333.9,565.1 334.4,565.0 334.8,564.9 335.3,565.6 335.8,564.8 336.2,565.7 336.7,565.8 337.2,565.5 337.6,565.5 338.1,565.4 338.6,566.9 339.0,565.5 339.5,566.9 340.0,566.6 340.5,566.2 340.9,566.0 341.4,567.0 341.9,567.4 342.3,566.3 342.8,566.7 343.3,567.4 343.7,567.1 344.2,568.0 344.7,566.9 345.2,567.5 345.6,566.7 346.1,568.3 346.6,567.2 347.0,566.6 347.5,567.6 348.0,567.7 348.4,568.7 348.9,567.8 349.4,568.0 349.8,568.4 350.3,568.9 350.8,568.3 351.3,568.8 351.7,568.7 352.2,568.4 352.7,568.7 353.1,568.7 353.6,568.4 354.1,569.5 354.5,568.4 355.0,569.6 355.5,569.6 355.9,569.3 356.4,569.0 356.9,569.4 357.4,569.8 357.8,570.0 358.3,569.9 358.8,570.3 359.2,569.7 359.7,570.2 360.2,569.5 360.6,570.6 361.1,570.4 361.6,570.3 362.0,571.1 362.5,571.0 363.0,569.5 363.5,570.9 363.9,570.3 364.4,571.5 364.9,572.3 365.3,571.0 365.8,571.4 366.3,571.3 366.7,571.7 367.2,571.9 367.7,572.3 368.1,571.4 368.6,572.7 369.1,571.6 369.6,572.3 370.0,572.8 370.5,572.7 371.0,572.0 371.4,572.3 371.9,572.5 372.4,572.8 372.8,573.4 373.3,572.4 373.8,573.3 374.2,573.5 374.7,573.6 375.2,573.6 375.7,574.2 376.1,573.8 376.6,574.1 377.1,574.1 377.5,574.8 378.0,574.1" marker-start="url(#mS)" marker-mid="url(#mS)" marker-end="url(#mS)"/>
<polyline fill="none" stroke="none" points="96.9,895.6 97.5,892.4 98.0,888.5 98.6,883.8 99.2,878.6 99.7,874.6 100.3,869.4 100.8,865.1 101.4,859.0 102.0,855.6 102.5,850.1 103.1,845.0 103.7,840.0 104.2,835.2 104.8,830.4 105.3,826.2 105.9,822.1 106.5,817.7 107.0,812.7 107.6,809.2 108.2,804.8 108.7,801.3 109.3,798.3 109.9,793.8 110.4,789.5 111.0,785.0 111.5,781.5 112.1,777.8 112.7,775.6 113.2,771.3 113.8,768.4 114.4,764.6 114.9,761.8 115.5,759.3 116.1,754.9 116.6,752.0 117.2,748.7 117.7,746.6 118.3,742.6 118.9,739.6 119.4,736.6 120.0,733.8 120.6,732.1 121.1,730.5 121.7,725.8 122.2,724.3 122.8,721.3 123.4,718.0 123.9,715.9 124.5,713.4 125.1,710.7 125.6,709.7 126.2,705.2 126.8,704.2 127.3,701.8 127.9,699.1 128.4,697.2 129.0,695.4 129.6,692.8 130.1,690.8 130.7,688.9 131.3,685.3 131.8,685.2 132.4,683.6 133.0,680.9 133.5,678.9 134.1,675.7 134.6,674.5 135.2,672.2 135.8,670.5 136.3,669.5 136.9,666.7 137.5,665.3 138.0,662.6 138.6,661.8 139.1,660.3 139.7,658.2 140.3,656.5 140.8,656.3 141.4,653.0 142.0,651.5 142.5,650.1 143.1,649.7 143.7,648.7 144.2,646.2 144.8,644.1 145.3,642.8 145.9,642.2 146.5,639.7 147.0,639.7 147.6,638.3 148.2,636.2 148.7,635.2 149.3,633.9 149.9,633.1 150.4,630.4 151.0,630.3 151.5,628.2 152.1,626.8 152.7,626.1 153.2,624.7 153.8,623.1 154.4,621.7 154.9,620.9 155.5,621.1 156.0,620.3 156.6,618.5 157.2,617.7 157.7,615.7 158.3,614.9 158.9,614.1 159.4,612.3 160.0,611.4 160.6,611.0 161.1,609.8 161.7,608.5 162.2,608.3 162.8,607.0 163.4,606.8 163.9,605.4 164.5,604.3 165.1,603.7 165.6,602.7 166.2,601.6 166.8,600.9 167.3,600.7 167.9,599.8 168.4,599.4 169.0,597.0 169.6,596.9 170.1,596.2 170.7,595.7 171.3,594.6 171.8,593.9 172.4,593.9 172.9,592.9 173.5,591.4 174.1,592.1 174.6,591.3 175.2,589.7 175.8,589.9 176.3,588.4 176.9,588.8 177.5,587.4 178.0,586.5 178.6,586.1 179.1,585.3 179.7,585.2 180.3,584.7 180.8,584.0 181.4,583.1 182.0,580.9 182.5,582.4 183.1,580.8 183.7,581.4 184.2,581.4 184.8,580.4 185.3,579.6 185.9,579.2 186.5,578.7 187.0,578.0 187.6,577.6 188.2,576.9 188.7,577.6 189.3,576.5 189.8,576.6 190.4,575.5 191.0,575.3 191.5,574.7 192.1,574.7 192.7,574.5 193.2,573.7 193.8,572.9 194.4,572.4 194.9,573.4 195.5,571.9 196.0,571.6 196.6,572.2 197.2,571.6 197.7,571.0 198.3,570.1 198.9,571.3 199.4,569.9 200.0,569.7 200.6,569.0 201.1,568.0 201.7,567.7 202.2,568.4 202.8,568.1 203.4,567.4 203.9,566.6 204.5,566.2 205.1,566.5 205.6,565.7 206.2,566.7 206.7,566.6 207.3,567.2 207.9,565.9 208.4,564.9 209.0,564.5 209.6,562.8 210.1,564.2 210.7,564.2 211.3,564.6 211.8,564.2 212.4,563.9 212.9,563.5 213.5,563.6 214.1,563.8 214.6,562.2 215.2,562.4 215.8,561.7 216.3,563.1 216.9,562.8 217.5,562.3 218.0,561.0 218.6,561.6 219.1,561.2 219.7,561.2 220.3,560.9 220.8,561.2 221.4,560.5 222.0,561.0 222.5,560.6 223.1,560.1 223.6,560.1 224.2,559.8 224.8,560.3 225.3,559.6 225.9,559.8 226.5,559.3 227.0,558.6 227.6,559.8 228.2,558.6 228.7,559.4 229.3,559.2 229.8,557.9 230.4,558.2 231.0,558.3 231.5,558.1 232.1,557.8 232.7,558.7 233.2,558.1 233.8,558.4 234.4,557.8 234.9,558.1 235.5,557.5 236.0,557.8 236.6,558.1 237.2,557.7 237.7,557.3 238.3,556.9 238.9,557.5 239.4,557.6 240.0,557.2 240.5,556.8 241.1,557.5 241.7,558.5 242.2,556.9 242.8,557.2 243.4,557.2 243.9,555.5 244.5,557.0 245.1,556.5 245.6,557.6 246.2,556.6 246.7,556.3 247.3,556.6 247.9,556.7 248.4,556.3 249.0,556.6 249.6,555.8 250.1,556.4 250.7,556.9 251.3,557.6 251.8,556.8 252.4,556.6 252.9,557.1 253.5,556.9 254.1,557.3 254.6,556.9 255.2,556.3 255.8,556.5 256.3,556.4 256.9,556.5 257.4,556.4 258.0,555.9 258.6,555.1 259.1,555.9 259.7,555.2 260.3,556.3 260.8,556.3 261.4,555.3 262.0,556.6 262.5,556.7 263.1,556.3 263.6,557.2 264.2,557.3 264.8,555.6 265.3,556.9 265.9,556.6 266.5,556.5 267.0,556.8 267.6,555.9 268.2,556.0 268.7,555.9 269.3,556.0 269.8,556.3 270.4,555.6 271.0,555.9 271.5,556.8 272.1,556.4 272.7,556.7 273.2,555.5 273.8,556.1 274.3,556.3 274.9,556.6 275.5,556.3 276.0,557.2 276.6,556.6 277.2,556.7 277.7,556.7 278.3,557.2 278.9,556.5 279.4,557.4 280.0,557.1 280.5,557.0 281.1,556.9 281.7,557.2 282.2,557.5 282.8,557.5 283.4,557.3 283.9,557.6 284.5,557.2 285.1,557.9 285.6,557.2 286.2,556.1 286.7,558.0 287.3,557.4 287.9,556.7 288.4,557.3 289.0,557.0 289.6,558.7 290.1,557.8 290.7,556.7 291.2,557.9 291.8,557.5 292.4,558.8 292.9,557.2 293.5,556.6 294.1,557.9 294.6,557.7 295.2,557.7 295.8,556.8 296.3,558.3 296.9,559.0 297.4,557.1 298.0,558.9 298.6,558.0 299.1,559.6 299.7,558.6 300.3,558.3 300.8,559.1 301.4,558.8 302.0,558.3 302.5,559.0 303.1,558.4 303.6,557.8 304.2,559.9 304.8,558.7 305.3,558.6 305.9,559.1 306.5,558.2 307.0,558.3 307.6,558.9 308.1,558.9 308.7,559.3 309.3,559.9 309.8,559.1 310.4,559.7 311.0,559.8 311.5,558.9 312.1,559.7 312.7,559.1 313.2,560.3 313.8,560.0 314.3,559.8 314.9,559.2 315.5,560.0 316.0,559.6 316.6,560.5 317.2,560.1 317.7,559.7 318.3,560.8 318.9,560.7 319.4,560.1 320.0,561.1 320.5,560.3 321.1,560.4 321.7,560.7 322.2,560.3 322.8,560.5 323.4,560.7 323.9,561.7 324.5,561.8 325.0,560.9 325.6,562.0 326.2,561.1 326.7,561.4 327.3,561.7 327.9,561.5 328.4,562.7 329.0,561.6 329.6,560.9 330.1,562.3 330.7,561.4 331.2,561.5 331.8,560.1 332.4,562.4 332.9,562.4 333.5,562.4 334.1,562.6 334.6,563.0 335.2,562.1 335.8,562.7 336.3,561.9 336.9,562.2 337.4,563.0 338.0,562.7 338.6,561.8 339.1,562.8 339.7,562.6 340.3,562.3 340.8,563.1 341.4,562.7 341.9,562.1 342.5,562.4 343.1,564.1 343.6,562.3 344.2,563.3 344.8,563.6 345.3,563.7 345.9,562.7 346.5,563.3 347.0,563.6 347.6,564.1 348.1,563.3 348.7,563.1 349.3,564.4 349.8,564.5 350.4,564.2 351.0,563.7 351.5,564.3 352.1,564.2 352.7,564.7 353.2,563.6 353.8,564.4 354.3,564.3 354.9,563.9 355.5,564.7 356.0,564.6 356.6,564.4 357.2,565.0 357.7,564.0 358.3,564.8 358.8,565.2 359.4,565.2 360.0,565.7 360.5,564.5 361.1,564.4 361.7,565.4 362.2,565.6 362.8,566.6 363.4,565.8 363.9,565.0 364.5,566.0 365.0,565.2 365.6,564.9 366.2,567.2 366.7,566.0 367.3,566.3 367.9,566.3 368.4,567.0 369.0,566.3 369.6,566.8 370.1,565.7 370.7,565.5 371.2,567.2 371.8,567.3 372.4,566.8 372.9,566.7 373.5,566.7 374.1,566.3 374.6,567.6 375.2,567.2 375.7,567.2 376.3,567.2 376.9,567.6 377.4,567.4 378.0,567.1" marker-start="url(#mO4)" marker-mid="url(#mO4)" marker-end="url(#mO4)"/>
<polyline fill="none" stroke="none" points="96.9,895.6 97.2,893.1 97.5,891.3 97.8,886.9 98.2,884.3 98.5,882.1 98.8,879.4 99.1,876.3 99.4,872.2 99.7,870.6 100.0,866.7 100.3,864.0 100.7,862.0 101.0,858.5 101.3,856.3 101.6,854.8 101.9,850.5 102.2,847.5 102.5,843.6 102.8,840.9 103.2,837.7 103.5,835.1 103.8,831.9 104.1,829.3 104.4,826.7 104.7,823.4 105.0,820.3 105.3,817.6 105.7,815.9 106.0,812.8 106.3,810.7 106.6,807.9 106.9,804.4 107.2,802.3 107.5,798.4 107.8,797.9 108.2,794.6 108.5,791.2 108.8,788.0 109.1,786.4 109.4,782.5 109.7,780.6 110.0,779.1 110.3,776.2 110.7,773.4 111.0,771.8 111.3,768.2 111.6,766.7 111.9,763.8 112.2,761.3 112.5,759.8 112.8,756.6 113.2,756.1 113.5,752.4 113.8,751.7 114.1,747.6 114.4,746.5 114.7,743.3 115.0,741.0 115.3,739.8 115.7,738.1 116.0,734.8 116.3,734.3 116.6,731.1 116.9,729.6 117.2,727.8 117.5,726.0 117.8,722.6 118.2,722.8 118.5,720.2 118.8,717.8 119.1,715.6 119.4,713.3 119.7,711.7 120.0,711.1 120.4,708.8 120.7,706.5 121.0,705.2 121.3,704.7 121.6,701.9 121.9,700.1 122.2,699.6 122.5,697.4 122.9,695.5 123.2,693.5 123.5,691.4 123.8,690.0 124.1,688.9 124.4,687.5 124.7,686.3 125.0,684.9 125.4,683.3 125.7,681.8 126.0,679.6 126.3,677.5 126.6,677.0 126.9,675.4 127.2,674.2 127.5,673.0 127.9,671.1 128.2,669.8 128.5,669.1 128.8,667.9 129.1,666.1 129.4,665.5 129.7,663.8 130.0,662.1 130.4,661.5 130.7,661.4 131.0,658.6 131.3,658.5 131.6,657.4 131.9,656.3 132.2,653.8 132.5,654.3 132.9,652.0 133.2,650.7 133.5,649.6 133.8,649.0 134.1,647.6 134.4,646.3 134.7,646.2 135.0,643.9 135.4,642.7 135.7,642.7 136.0,641.6 136.3,640.9 136.6,638.6 136.9,638.9 137.2,637.5 137.5,637.3 137.9,634.6 138.2,634.5 138.5,633.3 138.8,631.6 139.1,631.2 139.4,631.4 139.7,629.5 140.0,628.5 140.4,628.5 140.7,627.7 141.0,626.9 141.3,625.0 141.6,624.6 141.9,624.4 142.2,622.6 142.6,621.7 142.9,621.8 143.2,621.5 143.5,619.1 143.8,617.4 144.1,617.3 144.4,616.8 144.7,616.6 145.1,616.3 145.4,615.1 145.7,614.1 146.0,613.9 146.3,612.5 146.6,612.3 146.9,611.3 147.2,612.6 147.6,610.8 147.9,609.1 148.2,608.3 148.5,608.0 148.8,606.6 149.1,606.5 149.4,605.9 149.7,606.2 150.1,604.8 150.4,604.0 150.7,603.0 151.0,602.5 151.3,602.6 151.6,601.9 151.9,602.1 152.2,600.5 152.6,600.9 152.9,599.9 153.2,599.1 153.5,597.4 153.8,597.3 154.1,597.9 154.4,597.8 154.7,596.5 155.1,596.4 155.4,595.1 155.7,594.6 156.0,593.9 156.3,594.4 156.6,593.5 156.9,592.7 157.2,592.2 157.6,592.2 157.9,591.6 158.2,590.4 158.5,591.5 158.8,590.1 159.1,589.5 159.4,590.0 159.7,589.2 160.1,588.1 160.4,588.1 160.7,586.7 161.0,586.5 161.3,585.1 161.6,586.8 161.9,584.5 162.3,585.6 162.6,584.3 162.9,583.8 163.2,583.9 163.5,583.8 163.8,583.6 164.1,583.9 164.4,582.7 164.8,582.6 165.1,581.3 165.4,581.8 165.7,581.1 166.0,580.3 166.3,580.2 166.6,579.9 166.9,579.7 167.3,579.4 167.6,578.6 167.9,578.1 168.2,578.6 168.5,576.8 168.8,577.2 169.1,578.1 169.4,575.3 169.8,576.2 170.1,576.7 170.4,575.0 170.7,577.2 171.0,573.8 171.3,575.9 171.6,575.7 171.9,575.0 172.3,574.0 172.6,574.1 172.9,573.1 173.2,573.8 173.5,572.4 173.8,572.6 174.1,573.1 174.4,571.5 174.8,571.7 175.1,571.8 175.4,570.6 175.7,571.9 176.0,571.1 176.3,569.8 176.6,570.4 176.9,569.7 177.3,569.5 177.6,569.7 177.9,569.0 178.2,569.8 178.5,568.6 178.8,569.3 179.1,568.5 179.4,568.8 179.8,567.8 180.1,567.6 180.4,567.0 180.7,567.8 181.0,567.8 181.3,568.3 181.6,567.6 181.9,566.7 182.3,566.3 182.6,566.4 182.9,566.0 183.2,566.7 183.5,566.2 183.8,564.9 184.1,564.8 184.5,565.9 184.8,565.0 185.1,564.5 185.4,565.2 185.7,564.1 186.0,564.0 186.3,563.7 186.6,562.6 187.0,564.1 187.3,562.7 187.6,562.9 187.9,562.7 188.2,563.4 188.5,562.7 188.8,562.6 189.1,561.5 189.5,562.3 189.8,561.3 190.1,562.2 190.4,562.1 190.7,561.7 191.0,562.8 191.3,561.7 191.6,561.6 192.0,561.2 192.3,560.9 192.6,561.4 192.9,561.4 193.2,559.8 193.5,561.1 193.8,560.6 194.1,560.8 194.5,560.3 194.8,559.2 195.1,559.1 195.4,560.8 195.7,559.7 196.0,558.6 196.3,559.5 196.6,559.0 197.0,558.0 197.3,557.6 197.6,557.9 197.9,558.9 198.2,558.6 198.5,558.4 198.8,558.6 199.1,558.7 199.5,557.0 199.8,557.9 200.1,557.5 200.4,557.2 200.7,557.5 201.0,557.6 201.3,557.5 201.6,556.6 202.0,557.1 202.3,558.5 202.6,556.6 202.9,556.1 203.2,557.2 203.5,557.3 203.8,557.2 204.1,556.1 204.5,557.3 204.8,556.2 205.1,555.9 205.4,556.1 205.7,556.3 206.0,556.7 206.3,556.6 206.7,556.1 207.0,556.6 207.3,556.0 207.6,556.5 207.9,555.0 208.2,554.8 208.5,556.2 208.8,554.8 209.2,555.4 209.5,555.4 209.8,555.1 210.1,555.1 210.4,556.1 210.7,553.7 211.0,555.7 211.3,556.5 211.7,555.1 212.0,555.0 212.3,555.4 212.6,556.0 212.9,554.1 213.2,554.8 213.5,554.6 213.8,555.0 214.2,554.7 214.5,554.9 214.8,554.2 215.1,554.5 215.4,554.0 215.7,553.9 216.0,554.2 216.3,554.2 216.7,553.5 217.0,555.1 217.3,554.0 217.6,553.2 217.9,554.7 218.2,553.5 218.5,554.2 218.8,553.9 219.2,554.0 219.5,553.9 219.8,553.4 220.1,553.8 220.4,554.9 220.7,552.3 221.0,553.7 221.3,553.8 221.7,552.9 222.0,552.7 222.3,554.8 222.6,553.2 222.9,554.7 223.2,553.7 223.5,553.4 223.8,553.6 224.2,553.7 224.5,554.0 224.8,553.5 225.1,553.3 225.4,553.3 225.7,554.0 226.0,553.6 226.3,552.5 226.7,552.7 227.0,553.2 227.3,552.6 227.6,552.8 227.9,552.4 228.2,552.8 228.5,553.2 228.9,553.5 229.2,552.9 229.5,554.1 229.8,552.8 230.1,554.7 230.4,553.4 230.7,553.1 231.0,552.5 231.4,551.1 231.7,552.6 232.0,552.8 232.3,553.9 232.6,551.9 232.9,553.8 233.2,552.5 233.5,553.1 233.9,551.1 234.2,552.7 234.5,552.4 234.8,553.0 235.1,552.6 235.4,551.9 235.7,553.1 236.0,553.0 236.4,552.9 236.7,553.1 237.0,553.2 237.3,552.5 237.6,551.7 237.9,551.7 238.2,553.3 238.5,552.9 238.9,552.6 239.2,552.2 239.5,552.5 239.8,552.5 240.1,552.3 240.4,552.0 240.7,553.8 241.0,552.6 241.4,552.1 241.7,551.7 242.0,552.0 242.3,552.9 242.6,552.9 242.9,552.3 243.2,552.5 243.5,552.3 243.9,551.8 244.2,553.2 244.5,552.7 244.8,553.9 245.1,552.0 245.4,552.4 245.7,553.0 246.0,552.3 246.4,551.6 246.7,551.9 247.0,552.5 247.3,552.7 247.6,552.4 247.9,553.1 248.2,553.1 248.6,552.7 248.9,552.5 249.2,552.3 249.5,552.8 249.8,553.1 250.1,552.6 250.4,552.8 250.7,552.3 251.1,551.7 251.4,551.9 251.7,553.0 252.0,552.8 252.3,553.5 252.6,552.6 252.9,553.1 253.2,553.4 253.6,553.2 253.9,552.3 254.2,552.5 254.5,552.7 254.8,552.1 255.1,552.9 255.4,553.3 255.7,552.4 256.1,553.9 256.4,552.5 256.7,552.6 257.0,552.6 257.3,552.3 257.6,553.0 257.9,552.8 258.2,553.8 258.6,553.2 258.9,553.1 259.2,552.7 259.5,552.0 259.8,552.8 260.1,552.4 260.4,553.4 260.7,552.9 261.1,553.9 261.4,553.4 261.7,553.4 262.0,553.1 262.3,553.1 262.6,553.4 262.9,553.6 263.2,552.6 263.6,553.3 263.9,554.6 264.2,553.0 264.5,552.9 264.8,552.7 265.1,552.3 265.4,553.9 265.7,553.2 266.1,553.4 266.4,554.3 266.7,554.7 267.0,552.7 267.3,553.9 267.6,553.6 267.9,553.5 268.2,553.6 268.6,553.3 268.9,554.3 269.2,553.7 269.5,553.6 269.8,554.2 270.1,554.0 270.4,553.7 270.8,553.7 271.1,554.5 271.4,553.8 271.7,553.5 272.0,553.0 272.3,553.4 272.6,553.0 272.9,553.7 273.3,553.8 273.6,552.4 273.9,553.7 274.2,554.1 274.5,553.8 274.8,553.2 275.1,554.5 275.4,553.4 275.8,553.1 276.1,553.2 276.4,553.9 276.7,554.5 277.0,554.6 277.3,554.1 277.6,553.2 277.9,553.6 278.3,553.5 278.6,553.9 278.9,553.0 279.2,554.1 279.5,554.5 279.8,554.0 280.1,554.4 280.4,553.6 280.8,553.3 281.1,553.8 281.4,554.9 281.7,554.9 282.0,554.0 282.3,555.0 282.6,554.2 282.9,555.3 283.3,554.7 283.6,554.2 283.9,554.9 284.2,554.0 284.5,553.9 284.8,553.7 285.1,554.7 285.4,554.5 285.8,554.6 286.1,554.4 286.4,555.5 286.7,554.4 287.0,554.3 287.3,555.5 287.6,555.6 287.9,555.0 288.3,553.8 288.6,554.5 288.9,555.2 289.2,554.9 289.5,555.9 289.8,554.1 290.1,555.4 290.4,554.6 290.8,555.8 291.1,555.0 291.4,555.7 291.7,554.7 292.0,554.3 292.3,554.5 292.6,554.8 293.0,554.6 293.3,556.0 293.6,556.1 293.9,555.5 294.2,554.7 294.5,555.3 294.8,555.0 295.1,556.3 295.5,555.6 295.8,555.8 296.1,555.3 296.4,554.3 296.7,555.1 297.0,554.9 297.3,555.9 297.6,555.7 298.0,555.2 298.3,555.5 298.6,556.7 298.9,555.2 299.2,555.3 299.5,555.7 299.8,555.4 300.1,555.6 300.5,556.2 300.8,557.0 301.1,554.9 301.4,556.0 301.7,556.1 302.0,556.0 302.3,556.0 302.6,555.9 303.0,556.8 303.3,555.9 303.6,556.1 303.9,556.2 304.2,556.3 304.5,556.2 304.8,556.9 305.1,556.4 305.5,556.5 305.8,556.4 306.1,555.9 306.4,556.0 306.7,555.9 307.0,556.7 307.3,556.2 307.6,556.0 308.0,556.8 308.3,557.0 308.6,555.6 308.9,557.7 309.2,556.8 309.5,556.7 309.8,557.5 310.1,556.9 310.5,556.5 310.8,558.2 311.1,556.3 311.4,556.9 311.7,557.5 312.0,556.4 312.3,557.0 312.6,557.3 313.0,558.6 313.3,556.6 313.6,557.2 313.9,557.6 314.2,557.3 314.5,556.6 314.8,557.6 315.2,557.4 315.5,557.6 315.8,558.1 316.1,558.1 316.4,557.7 316.7,557.7 317.0,556.9 317.3,557.5 317.7,557.7 318.0,557.4 318.3,557.7 318.6,557.2 318.9,558.6 319.2,559.0 319.5,557.6 319.8,558.1 320.2,557.7 320.5,558.6 320.8,558.2 321.1,558.0 321.4,557.8 321.7,558.1 322.0,557.4 322.3,558.5 322.7,557.7 323.0,558.5 323.3,558.2 323.6,558.9 323.9,558.2 324.2,558.9 324.5,557.7 324.8,558.7 325.2,558.2 325.5,558.5 325.8,558.5 326.1,559.0 326.4,557.3 326.7,558.7 327.0,557.6 327.3,559.3 327.7,557.4 328.0,558.0 328.3,557.7 328.6,559.7 328.9,558.0 329.2,558.8 329.5,558.5 329.8,557.7 330.2,558.7 330.5,559.3 330.8,558.8 331.1,559.5 331.4,558.8 331.7,559.0 332.0,558.8 332.3,559.3 332.7,560.3 333.0,559.4 333.3,559.3 333.6,558.8 333.9,558.8 334.2,560.2 334.5,558.6 334.9,558.8 335.2,559.3 335.5,559.1 335.8,560.6 336.1,558.0 336.4,559.7 336.7,560.0 337.0,558.9 337.4,559.2 337.7,559.9 338.0,560.6 338.3,559.1 338.6,558.8 338.9,560.3 339.2,560.7 339.5,559.6 339.9,558.5 340.2,560.7 340.5,559.8 340.8,560.6 341.1,559.9 341.4,559.8 341.7,559.8 342.0,560.9 342.4,561.0 342.7,558.8 343.0,559.6 343.3,561.3 343.6,560.0 343.9,559.4 344.2,560.3 344.5,560.3 344.9,560.3 345.2,560.1 345.5,560.2 345.8,560.2 346.1,560.7 346.4,560.0 346.7,560.4 347.0,560.5 347.4,561.4 347.7,560.9 348.0,560.6 348.3,561.0 348.6,561.0 348.9,561.4 349.2,561.1 349.5,561.9 349.9,561.7 350.2,560.9 350.5,560.7 350.8,561.5 351.1,561.3 351.4,561.0 351.7,560.2 352.0,560.0 352.4,561.3 352.7,561.6 353.0,561.7 353.3,560.4 353.6,561.9 353.9,560.9 354.2,561.5 354.5,561.6 354.9,560.9 355.2,561.0 355.5,560.2 355.8,560.9 356.1,560.4 356.4,561.8 356.7,561.6 357.1,562.1 357.4,561.8 357.7,561.3 358.0,561.9 358.3,561.5 358.6,562.1 358.9,562.0 359.2,561.2 359.6,561.8 359.9,561.9 360.2,561.7 360.5,562.5 360.8,563.0 361.1,561.8 361.4,561.8 361.7,560.7 362.1,562.0 362.4,561.8 362.7,560.8 363.0,562.3 363.3,562.6 363.6,561.8 363.9,562.0 364.2,561.7 364.6,562.8 364.9,561.4 365.2,562.2 365.5,563.6 365.8,562.5 366.1,562.8 366.4,562.4 366.7,561.8 367.1,562.5 367.4,562.8 367.7,562.0 368.0,562.9 368.3,563.4 368.6,563.4 368.9,561.8 369.2,562.2 369.6,561.8 369.9,563.5 370.2,563.2 370.5,563.3 370.8,562.4 371.1,562.3 371.4,563.0 371.7,563.1 372.1,562.5 372.4,563.2 372.7,563.5 373.0,563.3 373.3,562.6 373.6,561.9 373.9,563.1 374.2,563.4 374.6,563.1 374.9,563.1 375.2,562.9 375.5,563.8 375.8,563.4 376.1,563.5 376.4,562.9 376.7,563.1 377.1,563.6 377.4,563.0 377.7,562.8 378.0,563.6" marker-start="url(#mF3)" marker-mid="url(#mF3)" marker-end="url(#mF3)"/>
<polyline fill="none" stroke="none" points="96.9,895.6 97.3,892.0 97.7,888.6 98.1,883.6 98.5,879.1 98.9,874.1 99.3,869.9 99.7,866.3 100.1,861.0 100.5,856.6 100.9,851.8 101.3,846.8 101.7,842.0 102.1,837.5 102.5,833.2 102.9,828.5 103.3,824.0 103.7,819.3 104.1,814.4 104.5,810.3 104.9,805.6 105.3,802.3 105.7,796.5 106.1,793.3 106.6,790.5 107.0,785.1 107.4,780.7 107.8,777.3 108.2,774.1 108.6,769.6 109.0,766.2 109.4,762.2 109.8,758.4 110.2,756.6 110.6,751.5 111.0,747.7 111.4,744.4 111.8,741.4 112.2,738.2 112.6,735.1 113.0,731.6 113.4,727.7 113.8,725.6 114.2,722.1 114.6,719.2 115.0,715.7 115.4,713.2 115.8,710.3 116.2,707.9 116.6,704.5 117.0,702.5 117.4,699.9 117.8,696.7 118.2,694.4 118.6,691.8 119.0,690.2 119.4,686.1 119.8,684.8 120.2,681.8 120.6,680.1 121.0,678.5 121.4,675.5 121.8,673.8 122.2,671.1 122.6,670.4 123.0,667.8 123.4,665.9 123.8,662.7 124.2,660.8 124.6,660.0 125.1,657.4 125.5,655.5 125.9,654.0 126.3,651.4 126.7,650.7 127.1,648.5 127.5,647.1 127.9,644.8 128.3,643.7 128.7,641.5 129.1,640.7 129.5,639.3 129.9,637.6 130.3,635.9 130.7,634.5 131.1,631.3 131.5,631.6 131.9,629.7 132.3,628.5 132.7,626.9 133.1,625.0 133.5,624.1 133.9,623.4 134.3,622.5 134.7,620.2 135.1,618.9 135.5,618.8 135.9,616.5 136.3,616.8 136.7,614.6 137.1,613.0 137.5,612.8 137.9,612.1 138.3,609.4 138.7,609.9 139.1,607.9 139.5,607.7 139.9,605.8 140.3,604.2 140.7,604.3 141.1,603.5 141.5,603.2 141.9,602.1 142.3,600.6 142.7,599.3 143.1,598.2 143.5,597.5 144.0,596.4 144.4,595.8 144.8,593.8 145.2,594.4 145.6,593.5 146.0,594.0 146.4,592.3 146.8,591.0 147.2,590.7 147.6,589.1 148.0,588.7 148.4,587.3 148.8,588.3 149.2,587.2 149.6,585.6 150.0,585.5 150.4,585.4 150.8,584.5 151.2,583.8 151.6,582.6 152.0,582.1 152.4,581.8 152.8,581.7 153.2,580.2 153.6,579.5 154.0,580.1 154.4,578.5 154.8,578.9 155.2,578.0 155.6,577.8 156.0,577.7 156.4,576.6 156.8,576.2 157.2,574.8 157.6,574.5 158.0,574.7 158.4,574.6 158.8,574.1 159.2,574.1 159.6,572.7 160.0,572.2 160.4,572.1 160.8,571.2 161.2,570.8 161.6,569.9 162.0,570.5 162.4,569.0 162.9,569.4 163.3,568.1 163.7,569.0 164.1,567.5 164.5,568.1 164.9,566.5 165.3,566.8 165.7,567.2 166.1,565.9 166.5,566.0 166.9,565.4 167.3,564.1 167.7,565.1 168.1,564.9 168.5,563.8 168.9,564.3 169.3,563.4 169.7,563.0 170.1,563.2 170.5,562.5 170.9,563.8 171.3,561.6 171.7,562.4 172.1,562.3 172.5,560.5 172.9,560.4 173.3,561.3 173.7,560.5 174.1,560.7 174.5,560.9 174.9,559.9 175.3,559.3 175.7,558.2 176.1,559.5 176.5,558.7 176.9,559.1 177.3,558.8 177.7,557.8 178.1,559.2 178.5,558.7 178.9,558.3 179.3,557.1 179.7,557.3 180.1,557.1 180.5,557.0 180.9,556.4 181.4,557.0 181.8,556.7 182.2,556.6 182.6,556.0 183.0,556.8 183.4,556.1 183.8,554.4 184.2,555.3 184.6,555.5 185.0,555.8 185.4,555.0 185.8,554.9 186.2,554.6 186.6,555.1 187.0,554.4 187.4,554.2 187.8,554.0 188.2,554.5 188.6,553.8 189.0,553.1 189.4,554.2 189.8,553.4 190.2,553.8 190.6,553.7 191.0,554.0 191.4,553.8 191.8,552.9 192.2,553.0 192.6,552.3 193.0,553.7 193.4,553.0 193.8,553.3 194.2,552.4 194.6,551.4 195.0,553.1 195.4,552.3 195.8,552.3 196.2,552.1 196.6,552.3 197.0,552.2 197.4,551.1 197.8,552.3 198.2,551.4 198.6,551.4 199.0,552.4 199.4,551.9 199.8,551.2 200.3,550.4 200.7,551.3 201.1,551.5 201.5,551.1 201.9,550.4 202.3,550.6 202.7,550.3 203.1,551.0 203.5,551.2 203.9,551.3 204.3,550.3 204.7,550.8 205.1,550.9 205.5,550.3 205.9,550.4 206.3,551.5 206.7,550.5 207.1,550.8 207.5,550.1 207.9,550.3 208.3,549.4 208.7,550.2 209.1,550.7 209.5,551.1 209.9,550.7 210.3,550.4 210.7,550.0 211.1,549.7 211.5,549.8 211.9,550.2 212.3,549.5 212.7,550.3 213.1,549.3 213.5,548.9 213.9,549.2 214.3,548.9 214.7,549.0 215.1,550.2 215.5,549.5 215.9,549.7 216.3,550.2 216.7,550.2 217.1,549.3 217.5,550.2 217.9,549.7 218.3,549.5 218.8,549.7 219.2,548.8 219.6,549.1 220.0,549.4 220.4,549.7 220.8,549.2 221.2,549.3 221.6,549.9 222.0,550.1 222.4,549.8 222.8,550.0 223.2,549.1 223.6,549.2 224.0,549.5 224.4,549.2 224.8,549.1 225.2,550.1 225.6,549.2 226.0,548.8 226.4,549.6 226.8,550.2 227.2,549.3 227.6,549.9 228.0,549.1 228.4,549.1 228.8,549.0 229.2,549.2 229.6,550.2 230.0,548.7 230.4,550.1 230.8,548.8 231.2,549.2 231.6,549.7 232.0,549.6 232.4,549.5 232.8,548.5 233.2,549.5 233.6,548.8 234.0,550.7 234.4,549.3 234.8,549.5 235.2,548.8 235.6,549.2 236.0,548.8 236.4,549.9 236.8,549.3 237.2,549.7 237.7,549.1 238.1,549.2 238.5,550.1 238.9,549.0 239.3,548.6 239.7,549.7 240.1,549.0 240.5,549.3 240.9,550.0 241.3,549.2 241.7,550.0 242.1,549.3 242.5,550.4 242.9,550.3 243.3,549.4 243.7,549.6 244.1,549.3 244.5,549.8 244.9,550.3 245.3,549.0 245.7,550.2 246.1,549.1 246.5,549.4 246.9,548.9 247.3,550.9 247.7,549.9 248.1,550.0 248.5,549.6 248.9,550.5 249.3,548.9 249.7,550.0 250.1,551.1 250.5,549.8 250.9,550.1 251.3,550.4 251.7,549.7 252.1,550.1 252.5,550.6 252.9,550.3 253.3,550.4 253.7,550.1 254.1,550.4 254.5,550.3 254.9,551.0 255.3,550.7 255.7,550.2 256.1,549.2 256.6,550.8 257.0,550.8 257.4,550.0 257.8,549.5 258.2,550.0 258.6,551.0 259.0,550.0 259.4,550.4 259.8,550.7 260.2,551.3 260.6,550.7 261.0,550.7 261.4,550.5 261.8,551.6 262.2,551.3 262.6,550.8 263.0,550.2 263.4,550.5 263.8,551.2 264.2,550.6 264.6,551.4 265.0,551.2 265.4,551.2 265.8,551.4 266.2,551.4 266.6,550.7 267.0,551.0 267.4,552.4 267.8,550.6 268.2,551.0 268.6,551.8 269.0,551.3 269.4,551.0 269.8,550.7 270.2,551.7 270.6,552.0 271.0,552.2 271.4,551.6 271.8,552.1 272.2,551.1 272.6,551.7 273.0,551.3 273.4,551.8 273.8,552.1 274.2,552.3 274.6,551.3 275.1,552.5 275.5,551.6 275.9,551.4 276.3,551.9 276.7,551.2 277.1,552.0 277.5,552.2 277.9,552.0 278.3,552.4 278.7,552.0 279.1,552.2 279.5,551.5 279.9,552.3 280.3,551.9 280.7,552.1 281.1,552.3 281.5,552.5 281.9,551.6 282.3,551.7 282.7,552.4 283.1,552.8 283.5,552.8 283.9,553.1 284.3,553.3 284.7,552.9 285.1,552.7 285.5,552.2 285.9,552.3 286.3,552.6 286.7,553.0 287.1,553.0 287.5,552.9 287.9,552.9 288.3,553.3 288.7,553.2 289.1,553.2 289.5,553.3 289.9,552.9 290.3,552.7 290.7,553.5 291.1,553.5 291.5,553.2 291.9,553.1 292.3,554.5 292.7,553.0 293.1,553.4 293.5,553.6 294.0,553.0 294.4,553.6 294.8,554.5 295.2,554.1 295.6,554.0 296.0,554.0 296.4,553.8 296.8,554.3 297.2,553.8 297.6,553.7 298.0,554.0 298.4,554.4 298.8,554.2 299.2,554.4 299.6,553.1 300.0,554.7 300.4,555.3 300.8,554.9 301.2,554.1 301.6,553.8 302.0,554.4 302.4,553.8 302.8,554.7 303.2,554.2 303.6,554.9 304.0,555.2 304.4,553.5 304.8,554.7 305.2,554.3 305.6,553.9 306.0,554.4 306.4,554.6 306.8,555.3 307.2,554.0 307.6,555.4 308.0,555.9 308.4,555.2 308.8,555.2 309.2,555.0 309.6,554.5 310.0,555.3 310.4,555.3 310.8,555.5 311.2,556.5 311.6,555.6 312.0,555.5 312.5,556.1 312.9,554.7 313.3,554.8 313.7,555.2 314.1,555.1 314.5,555.9 314.9,555.4 315.3,556.5 315.7,556.4 316.1,556.0 316.5,555.5 316.9,556.0 317.3,556.2 317.7,555.3 318.1,556.0 318.5,556.2 318.9,556.0 319.3,556.8 319.7,556.6 320.1,555.6 320.5,556.2 320.9,555.7 321.3,556.5 321.7,555.8 322.1,556.7 322.5,556.5 322.9,556.8 323.3,556.3 323.7,555.7 324.1,557.3 324.5,556.4 324.9,557.2 325.3,556.8 325.7,556.9 326.1,557.6 326.5,556.8 326.9,557.4 327.3,556.0 327.7,557.2 328.1,556.7 328.5,556.8 328.9,556.9 329.3,557.1 329.7,557.8 330.1,556.1 330.5,557.1 330.9,556.7 331.4,557.7 331.8,557.0 332.2,557.4 332.6,557.1 333.0,557.6 333.4,557.8 333.8,557.2 334.2,557.4 334.6,556.7 335.0,557.6 335.4,558.0 335.8,557.3 336.2,558.2 336.6,556.6 337.0,556.8 337.4,557.0 337.8,557.5 338.2,557.8 338.6,557.8 339.0,557.8 339.4,558.3 339.8,557.7 340.2,557.4 340.6,557.4 341.0,559.1 341.4,556.9 341.8,558.1 342.2,558.9 342.6,558.5 343.0,557.9 343.4,558.3 343.8,558.8 344.2,559.0 344.6,558.0 345.0,558.8 345.4,558.6 345.8,559.1 346.2,559.3 346.6,558.4 347.0,557.9 347.4,558.9 347.8,559.6 348.2,559.1 348.6,558.9 349.0,560.0 349.4,558.4 349.8,559.4 350.3,558.7 350.7,559.0 351.1,559.1 351.5,559.8 351.9,558.6 352.3,558.9 352.7,558.4 353.1,559.5 353.5,559.0 353.9,559.5 354.3,558.8 354.7,559.2 355.1,559.9 355.5,559.4 355.9,559.8 356.3,559.8 356.7,559.4 357.1,558.8 357.5,560.1 357.9,559.8 358.3,560.2 358.7,558.8 359.1,559.0 359.5,558.8 359.9,559.4 360.3,560.4 360.7,560.2 361.1,560.0 361.5,560.1 361.9,560.4 362.3,559.9 362.7,560.3 363.1,560.2 363.5,559.1 363.9,560.1 364.3,561.0 364.7,560.1 365.1,560.3 365.5,560.1 365.9,560.2 366.3,561.0 366.7,560.4 367.1,560.0 367.5,559.0 367.9,560.3 368.3,559.7 368.8,559.8 369.2,561.1 369.6,561.1 370.0,559.9 370.4,561.3 370.8,561.1 371.2,560.5 371.6,561.3 372.0,560.2 372.4,560.4 372.8,560.3 373.2,560.6 373.6,561.6 374.0,560.5 374.4,560.6 374.8,560.8 375.2,561.4 375.6,561.2 376.0,561.8 376.4,561.0 376.8,560.8 377.2,561.2 377.6,561.5 378.0,561.5" marker-start="url(#mO2)" marker-mid="url(#mO2)" marker-end="url(#mO2)"/>
<polyline fill="none" stroke="none" points="96.9,895.6 97.6,884.3 98.3,871.3 99.0,859.9 99.7,849.2 100.4,837.5 101.1,827.0 101.8,816.9 102.5,808.1 103.2,799.0 103.9,790.0 104.6,781.6 105.4,774.1 106.1,766.2 106.8,757.8 107.5,751.2 108.2,744.4 108.9,738.1 109.6,731.3 110.3,724.9 111.0,719.1 111.7,712.8 112.4,708.1 113.1,702.5 113.8,697.9 114.5,692.3 115.2,687.8 115.9,683.0 116.6,678.5 117.3,675.0 118.0,670.4 118.7,666.8 119.4,662.3 120.1,659.1 120.9,654.7 121.6,651.8 122.3,648.5 123.0,645.7 123.7,642.4 124.4,639.3 125.1,636.8 125.8,633.7 126.5,631.1 127.2,628.6 127.9,625.7 128.6,623.1 129.3,621.0 130.0,618.3 130.7,616.5 131.4,614.6 132.1,612.4 132.8,609.9 133.5,607.5 134.2,606.2 134.9,604.3 135.6,603.1 136.4,600.7 137.1,599.1 137.8,597.9 138.5,595.8 139.2,594.4 139.9,593.8 140.6,592.3 141.3,590.5 142.0,589.0 142.7,587.2 143.4,586.6 144.1,585.1 144.8,584.0 145.5,582.6 146.2,581.7 146.9,580.5 147.6,579.7 148.3,579.2 149.0,577.7 149.7,575.9 150.4,575.3 151.1,574.1 151.9,573.6 152.6,573.4 153.3,572.5 154.0,571.2 154.7,570.8 155.4,569.6 156.1,568.6 156.8,567.9 157.5,567.5 158.2,567.8 158.9,566.0 159.6,566.5 160.3,565.9 161.0,564.7 161.7,564.1 162.4,563.3 163.1,563.1 163.8,562.8 164.5,562.0 165.2,562.0 165.9,561.6 166.6,560.8 167.4,560.3 168.1,559.7 168.8,559.5 169.5,558.4 170.2,558.7 170.9,558.2 171.6,557.3 172.3,558.3 173.0,556.6 173.7,556.3 174.4,556.5 175.1,555.1 175.8,555.3 176.5,554.7 177.2,554.7 177.9,554.7 178.6,554.7 179.3,554.7 180.0,554.4 180.7,554.3 181.4,553.8 182.1,553.0 182.9,553.5 183.6,552.6 184.3,552.3 185.0,553.1 185.7,552.5 186.4,552.1 187.1,552.1 187.8,552.0 188.5,550.8 189.2,551.2 189.9,550.5 190.6,551.0 191.3,550.4 192.0,551.2 192.7,550.7 193.4,549.9 194.1,550.2 194.8,549.5 195.5,549.9 196.2,550.0 196.9,549.8 197.6,548.7 198.3,549.3 199.1,549.6 199.8,549.4 200.5,549.7 201.2,548.5 201.9,549.2 202.6,548.6 203.3,548.9 204.0,548.9 204.7,548.9 205.4,548.3 206.1,548.6 206.8,547.9 207.5,547.7 208.2,548.5 208.9,548.2 209.6,547.4 210.3,547.7 211.0,548.1 211.7,548.7 212.4,548.4 213.1,548.3 213.8,547.1 214.6,547.8 215.3,548.0 216.0,548.0 216.7,547.9 217.4,547.6 218.1,548.5 218.8,548.3 219.5,547.6 220.2,547.2 220.9,548.5 221.6,547.3 222.3,548.1 223.0,548.4 223.7,547.1 224.4,547.7 225.1,547.4 225.8,547.7 226.5,547.7 227.2,548.4 227.9,547.8 228.6,547.5 229.3,548.0 230.1,547.4 230.8,547.4 231.5,548.5 232.2,547.2 232.9,547.3 233.6,547.6 234.3,547.1 235.0,546.6 235.7,548.1 236.4,547.2 237.1,547.4 237.8,547.5 238.5,547.2 239.2,547.2 239.9,547.8 240.6,548.8 241.3,548.1 242.0,548.1 242.7,547.1 243.4,547.8 244.1,547.3 244.8,548.2 245.6,547.8 246.3,547.9 247.0,547.9 247.7,547.7 248.4,547.3 249.1,548.3 249.8,547.5 250.5,547.6 251.2,548.0 251.9,547.9 252.6,548.3 253.3,548.7 254.0,548.4 254.7,548.4 255.4,548.4 256.1,548.8 256.8,547.6 257.5,548.7 258.2,548.1 258.9,548.0 259.6,548.6 260.3,548.5 261.1,549.0 261.8,549.3 262.5,547.8 263.2,548.8 263.9,549.8 264.6,549.4 265.3,549.7 266.0,549.1 266.7,548.5 267.4,548.7 268.1,549.5 268.8,549.7 269.5,549.0 270.2,549.2 270.9,549.5 271.6,548.7 272.3,549.4 273.0,550.3 273.7,550.6 274.4,549.6 275.1,550.6 275.8,549.6 276.6,549.5 277.3,548.9 278.0,550.4 278.7,549.9 279.4,551.1 280.1,550.3 280.8,550.3 281.5,549.4 282.2,551.0 282.9,550.2 283.6,550.4 284.3,549.5 285.0,551.0 285.7,551.1 286.4,550.4 287.1,550.8 287.8,551.0 288.5,551.3 289.2,551.0 289.9,551.8 290.6,550.9 291.3,550.8 292.0,551.0 292.8,550.1 293.5,550.9 294.2,551.8 294.9,551.5 295.6,551.1 296.3,551.7 297.0,550.7 297.7,551.5 298.4,552.0 299.1,552.1 299.8,551.5 300.5,552.3 301.2,552.8 301.9,551.9 302.6,552.5 303.3,551.5 304.0,551.4 304.7,552.6 305.4,552.4 306.1,552.6 306.8,552.3 307.5,552.5 308.3,553.0 309.0,553.5 309.7,552.7 310.4,552.1 311.1,553.5 311.8,553.3 312.5,553.4 313.2,553.2 313.9,554.3 314.6,553.3 315.3,553.6 316.0,552.6 316.7,553.2 317.4,553.2 318.1,553.6 318.8,553.9 319.5,553.4 320.2,554.6 320.9,553.4 321.6,553.8 322.3,554.2 323.0,553.6 323.8,554.4 324.5,554.5 325.2,554.2 325.9,555.3 326.6,554.5 327.3,554.7 328.0,554.2 328.7,553.9 329.4,554.5 330.1,554.7 330.8,554.7 331.5,555.3 332.2,554.0 332.9,554.6 333.6,554.4 334.3,555.9 335.0,555.1 335.7,555.2 336.4,555.0 337.1,555.9 337.8,555.4 338.5,555.8 339.3,554.8 340.0,556.4 340.7,556.1 341.4,556.2 342.1,556.6 342.8,556.0 343.5,556.1 344.2,556.6 344.9,556.5 345.6,556.3 346.3,556.5 347.0,556.3 347.7,556.9 348.4,557.1 349.1,556.8 349.8,557.7 350.5,556.2 351.2,556.9 351.9,557.8 352.6,556.9 353.3,556.5 354.0,557.9 354.8,557.6 355.5,556.9 356.2,557.8 356.9,557.1 357.6,557.0 358.3,557.6 359.0,557.6 359.7,557.4 360.4,557.8 361.1,557.5 361.8,558.1 362.5,558.1 363.2,558.6 363.9,558.1 364.6,557.8 365.3,557.8 366.0,558.4 366.7,559.3 367.4,559.0 368.1,558.4 368.8,559.2 369.5,558.3 370.3,559.4 371.0,558.8 371.7,559.4 372.4,559.4 373.1,559.1 373.8,559.5 374.5,558.9 375.2,559.4 375.9,560.0 376.6,561.4 377.3,560.0 378.0,559.8" marker-start="url(#mF)" marker-mid="url(#mF)" marker-end="url(#mF)"/>
<g font-family='"Liberation Sans", sans-serif' fill="#000" font-size="18.7">
<text x="76.2" y="407.1" text-anchor="end">0</text>
<text x="76.2" y="310.5" text-anchor="end">1</text>
<text x="76.2" y="213.9" text-anchor="end">2</text>
<text x="76.2" y="117.3" text-anchor="end">3</text>
<text x="76.2" y="20.7" text-anchor="end">4</text>
<text x="91.7" y="443.2" text-anchor="middle">0</text>
<text x="200.7" y="443.2" text-anchor="middle">50</text>
<text x="309.7" y="443.2" text-anchor="middle">100</text>
<text x="418.7" y="443.2" text-anchor="middle">150</text>
<text x="527.7" y="443.2" text-anchor="middle">200</text>
<text x="636.7" y="443.2" text-anchor="middle">250</text>
<text x="75.6" y="902.3" text-anchor="end">0</text>
<text x="75.6" y="805.6" text-anchor="end">10</text>
<text x="75.6" y="708.9" text-anchor="end">20</text>
<text x="75.6" y="612.2" text-anchor="end">30</text>
<text x="75.6" y="515.5" text-anchor="end">40</text>
<text x="96.9" y="937.8" text-anchor="middle">0</text>
<text x="209.2" y="937.8" text-anchor="middle">2</text>
<text x="321.5" y="937.8" text-anchor="middle">4</text>
<text x="433.9" y="937.8" text-anchor="middle">6</text>
<text x="546.2" y="937.8" text-anchor="middle">8</text>
<text x="658.5" y="937.8" text-anchor="middle">10</text>
</g>
<g font-family='"Liberation Sans", sans-serif' fill="#000">
<text transform="translate(0,485.3)" xml:space="preserve"><tspan x="325.02" y="0.00" font-size="21.6" textLength="5.28" lengthAdjust="spacingAndGlyphs">[</tspan><tspan x="331.13" y="0.00" font-size="21.6" textLength="15.09" lengthAdjust="spacingAndGlyphs">H</tspan><tspan x="346.49" y="6.30" font-size="13.6" textLength="7.95" lengthAdjust="spacingAndGlyphs">2</tspan><tspan x="354.08" y="0.00" font-size="21.6" textLength="17.71" lengthAdjust="spacingAndGlyphs">O</tspan><tspan x="370.83" y="6.30" font-size="13.6" textLength="7.46" lengthAdjust="spacingAndGlyphs">2</tspan><tspan x="379.10" y="0.00" font-size="21.6" textLength="5.28" lengthAdjust="spacingAndGlyphs">]</tspan><tspan font-size="1"> </tspan><tspan x="394.99" y="0.00" font-size="22.5" font-family='"Liberation Serif", serif' textLength="12.14" lengthAdjust="spacingAndGlyphs">μ</tspan><tspan x="406.87" y="0.00" font-size="21.6" textLength="19.02" lengthAdjust="spacingAndGlyphs">M</tspan></text>
<text transform="translate(35.7,300) rotate(-90)" xml:space="preserve"><tspan x="0.09" y="0.00" font-size="22.0" font-style="italic" textLength="9.68" lengthAdjust="spacingAndGlyphs">v</tspan><tspan x="11.19" y="6.60" font-size="14.0" textLength="7.07" lengthAdjust="spacingAndGlyphs">0</tspan><tspan x="16.70" y="0.00" font-size="22.0" textLength="6.05" lengthAdjust="spacingAndGlyphs">/</tspan><tspan x="22.16" y="0.00" font-size="22.0" font-style="italic" textLength="11.81" lengthAdjust="spacingAndGlyphs">e</tspan><tspan x="35.79" y="6.60" font-size="14.0" textLength="7.07" lengthAdjust="spacingAndGlyphs">0</tspan><tspan font-size="1"> </tspan><tspan x="55.65" y="0.00" font-size="22.0" textLength="18.85" lengthAdjust="spacingAndGlyphs">or</tspan><tspan font-size="1"> </tspan><tspan x="87.53" y="0.00" font-size="22.0" font-style="italic" textLength="9.68" lengthAdjust="spacingAndGlyphs">k</tspan><tspan x="98.60" y="6.30" font-size="14.0" font-style="italic" textLength="6.85" lengthAdjust="spacingAndGlyphs">1</tspan><tspan font-size="1"> </tspan><tspan x="106.51" y="-10.60" font-size="14.0" font-style="italic" textLength="20.77" lengthAdjust="spacingAndGlyphs">obs</tspan><tspan font-size="1"> </tspan><tspan x="139.27" y="0.00" font-size="22.0" textLength="6.45" lengthAdjust="spacingAndGlyphs">(</tspan><tspan x="146.89" y="0.00" font-size="22.0" textLength="10.23" lengthAdjust="spacingAndGlyphs">s</tspan><tspan x="157.44" y="-11.40" font-size="14.0" textLength="4.10" lengthAdjust="spacingAndGlyphs">-</tspan><tspan x="161.60" y="-11.40" font-size="14.0" textLength="6.85" lengthAdjust="spacingAndGlyphs">1</tspan><tspan x="170.64" y="0.00" font-size="22.0" textLength="6.45" lengthAdjust="spacingAndGlyphs">)</tspan></text>
<text transform="translate(0,980.6)" xml:space="preserve"><tspan x="336.46" y="0.00" font-size="22.5" textLength="42.84" lengthAdjust="spacingAndGlyphs">time</tspan><tspan font-size="1"> </tspan><tspan x="388.73" y="0.00" font-size="22.5" textLength="26.56" lengthAdjust="spacingAndGlyphs">(s)</tspan></text>
<text transform="translate(26.0,788) rotate(-90)" xml:space="preserve"><tspan x="0.33" y="0.00" font-size="23.5" font-family='"Liberation Serif", serif' textLength="14.00" lengthAdjust="spacingAndGlyphs">Δ</tspan><tspan x="14.63" y="0.00" font-size="25.0" font-family='"Liberation Serif", serif' textLength="10.20" lengthAdjust="spacingAndGlyphs">ε</tspan><tspan x="25.56" y="4.90" font-size="13.3" textLength="19.53" lengthAdjust="spacingAndGlyphs">424</tspan><tspan font-size="1"> </tspan><tspan x="56.02" y="0.00" font-size="22.0" textLength="6.45" lengthAdjust="spacingAndGlyphs">(</tspan><tspan x="62.92" y="0.00" font-size="22.0" textLength="19.02" lengthAdjust="spacingAndGlyphs">m</tspan><tspan x="80.90" y="0.00" font-size="22.0" textLength="18.77" lengthAdjust="spacingAndGlyphs">M</tspan><tspan x="99.36" y="-10.80" font-size="12.8" textLength="3.75" lengthAdjust="spacingAndGlyphs">-</tspan><tspan x="103.46" y="-10.80" font-size="12.8" textLength="6.26" lengthAdjust="spacingAndGlyphs">1</tspan><tspan x="112.44" y="0.00" font-size="22.0" textLength="10.80" lengthAdjust="spacingAndGlyphs">c</tspan><tspan x="123.80" y="0.00" font-size="22.0" textLength="17.96" lengthAdjust="spacingAndGlyphs">m</tspan><tspan x="142.41" y="-10.80" font-size="12.8" textLength="3.75" lengthAdjust="spacingAndGlyphs">-</tspan><tspan x="146.76" y="-10.80" font-size="12.8" textLength="6.26" lengthAdjust="spacingAndGlyphs">1</tspan><tspan x="154.79" y="0.00" font-size="22.0" textLength="6.45" lengthAdjust="spacingAndGlyphs">)</tspan></text>
</g>
<g font-family='"Liberation Sans", sans-serif' fill="#000" font-size="31.4" font-weight="bold">
<text x="590.8" y="378.2">A</text>
<text x="597.2" y="889.9">B</text>
</g>
</svg>
</body>
</html>
